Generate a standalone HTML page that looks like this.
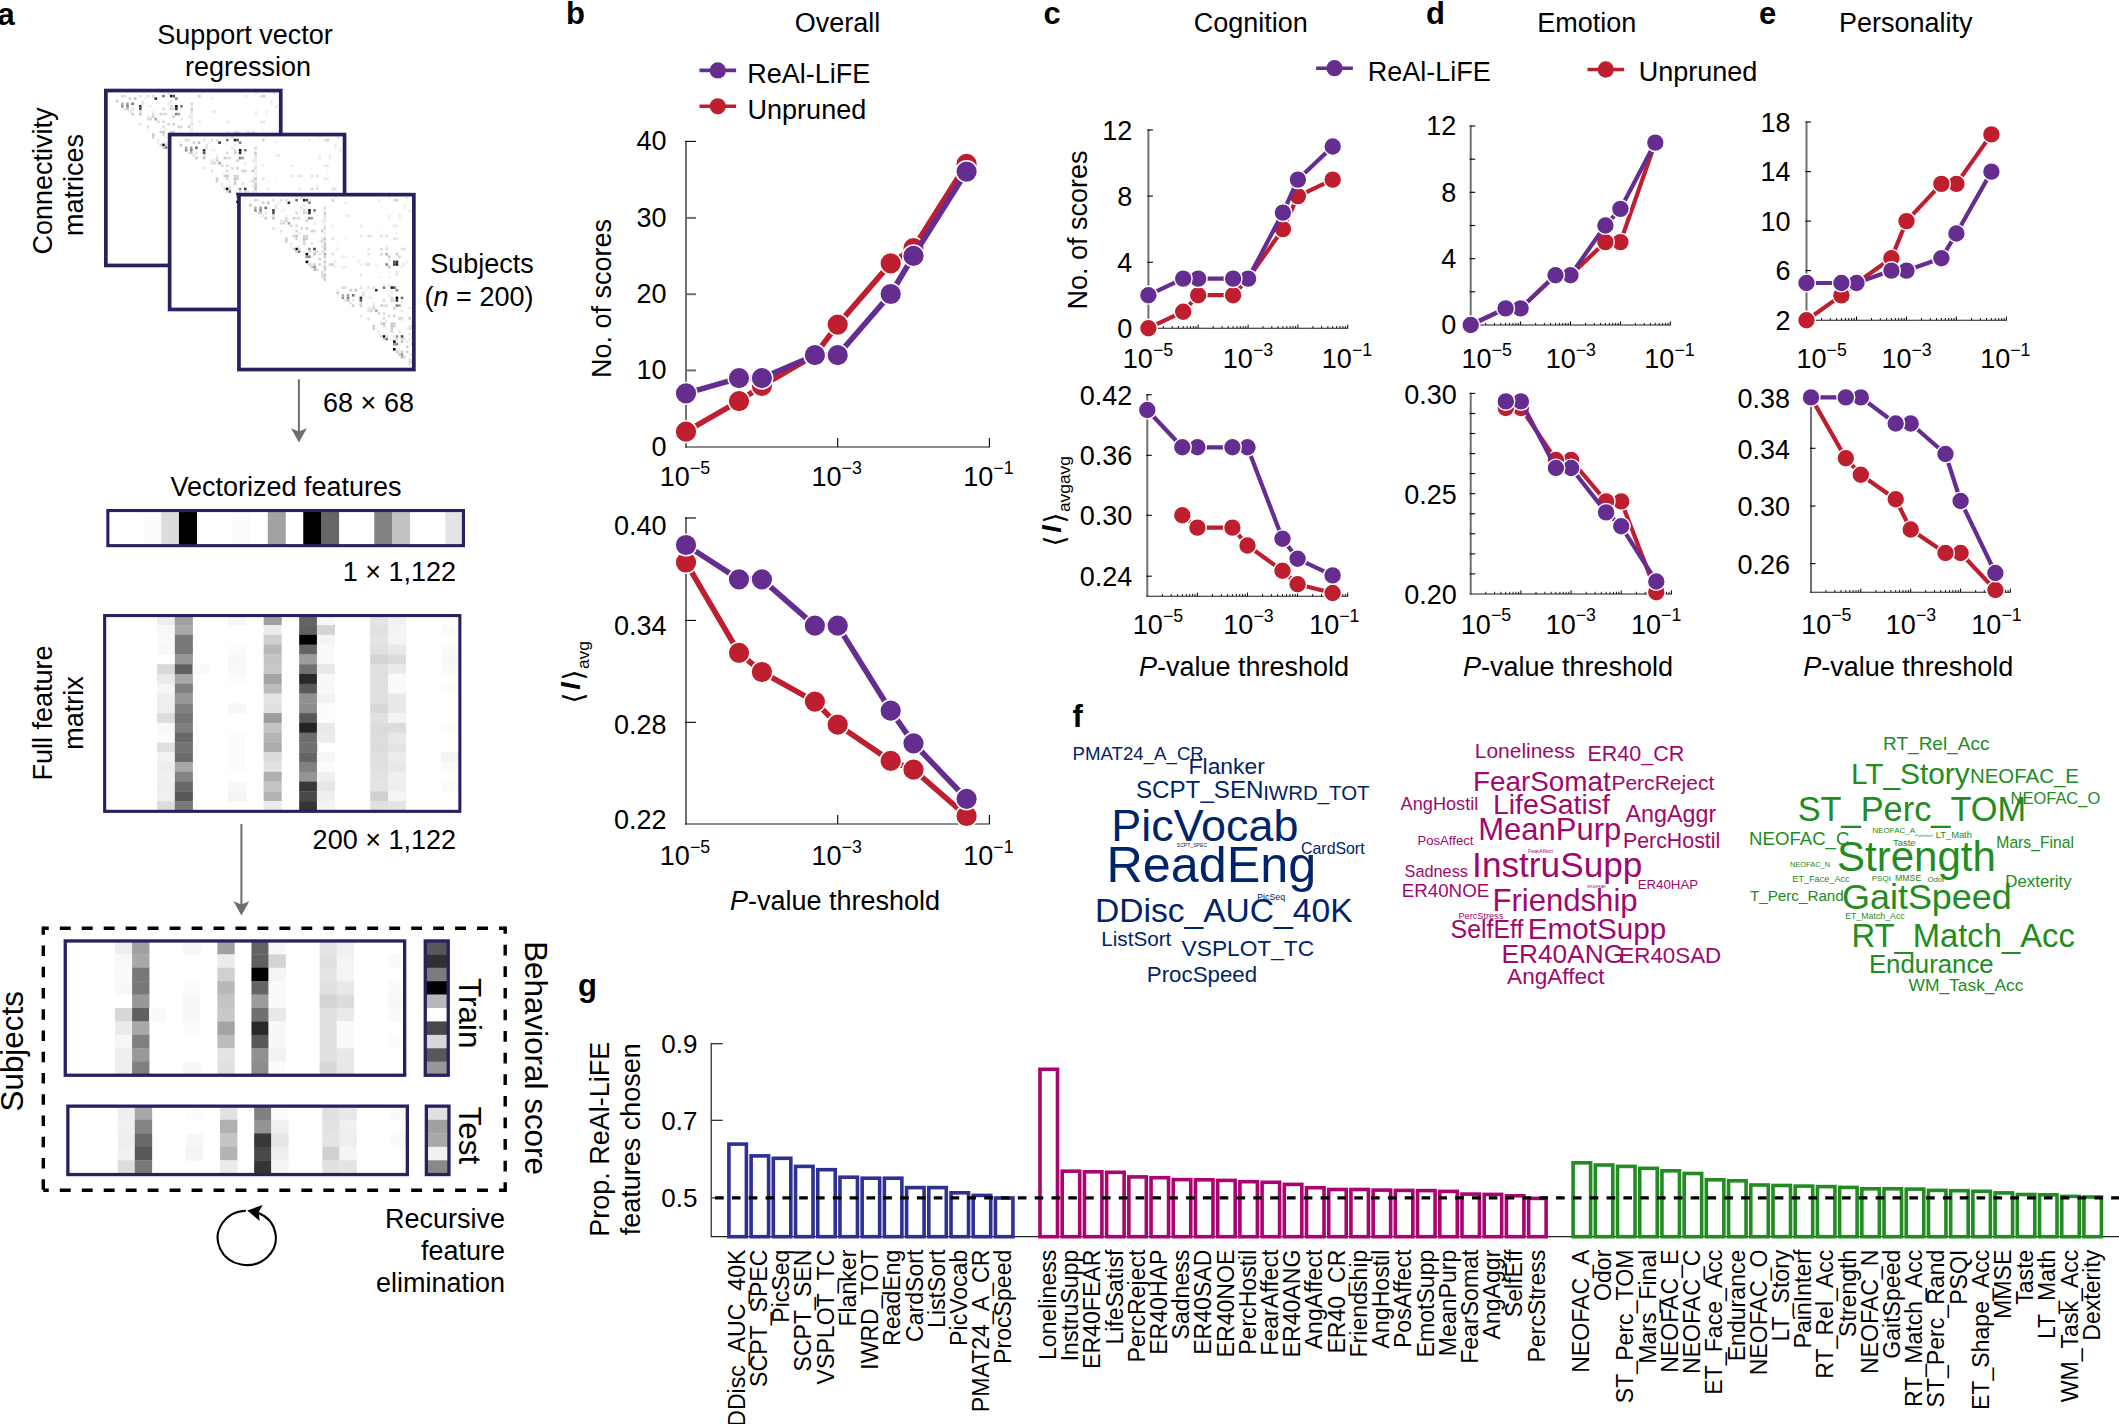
<!DOCTYPE html>
<html><head><meta charset="utf-8"><title>Figure</title><style>html,body{margin:0;padding:0;background:#fff}svg{display:block}.cm rect{width:2.58px;height:2.58px}</style></head><body>
<svg width="2119" height="1424" viewBox="0 0 2119 1424" font-family='"Liberation Sans", sans-serif'>
<rect width="2119" height="1424" fill="#fff"/>
<text x="-2.5" y="24.5" font-size="31" text-anchor="start" fill="#000" font-weight="bold">a</text>
<text x="245.0" y="43.8" font-size="27" text-anchor="middle" fill="#000">Support vector</text>
<text x="248.0" y="76.0" font-size="27" text-anchor="middle" fill="#000">regression</text>
<text x="51.5" y="181.0" font-size="27" text-anchor="middle" fill="#000" transform="rotate(-90 51.5 181.0)">Connectivity</text>
<text x="83.0" y="185.0" font-size="27" text-anchor="middle" fill="#000" transform="rotate(-90 83.0 185.0)">matrices</text>
<text x="482.0" y="273.0" font-size="27" text-anchor="middle" fill="#000">Subjects</text>
<text x="479.0" y="306.0" font-size="27" text-anchor="middle" fill="#000">(<tspan font-style="italic">n</tspan> = 200)</text>
<text x="368.5" y="411.7" font-size="27" text-anchor="middle" fill="#000">68 × 68</text>
<rect x="105.85" y="90.55" width="174.90" height="174.90" fill="#fff"/>
<g class="cm" transform="translate(105.60 92.20)">
<g fill="#000000"><rect x="69.45" y="12.86"/><rect x="156.90" y="100.31"/><rect x="56.59" y="51.44"/><rect x="144.04" y="138.89"/><rect x="66.87" y="56.59"/><rect x="154.32" y="144.04"/><rect x="66.87" y="64.30"/><rect x="154.32" y="151.75"/></g>
<g fill="#101010"><rect x="156.90" y="66.87"/></g>
<g fill="#202020"><rect x="64.30" y="2.57"/><rect x="151.75" y="90.02"/></g>
<g fill="#303030"><rect x="48.87" y="5.14"/><rect x="136.32" y="92.59"/><rect x="33.44" y="12.86"/><rect x="120.89" y="100.31"/><rect x="69.45" y="15.43"/><rect x="156.90" y="102.88"/><rect x="156.90" y="64.30"/></g>
<g fill="#404040"><rect x="74.59" y="51.44"/><rect x="162.04" y="138.89"/><rect x="154.32" y="66.87"/></g>
<g fill="#505050"><rect x="66.87" y="2.57"/><rect x="154.32" y="90.02"/><rect x="33.44" y="15.43"/><rect x="120.89" y="102.88"/><rect x="154.32" y="64.30"/></g>
<g fill="#707070"><rect x="56.59" y="2.57"/><rect x="144.04" y="90.02"/><rect x="25.72" y="10.29"/><rect x="113.17" y="97.74"/><rect x="74.59" y="12.86"/><rect x="162.04" y="100.31"/><rect x="59.16" y="54.01"/><rect x="146.61" y="141.46"/></g>
<g fill="#808080"><rect x="69.45" y="5.14"/><rect x="156.90" y="92.59"/><rect x="20.58" y="12.86"/><rect x="108.03" y="100.31"/><rect x="69.45" y="20.58"/><rect x="156.90" y="108.03"/><rect x="69.45" y="59.16"/><rect x="156.90" y="146.61"/><rect x="146.61" y="66.87"/></g>
<g fill="#909090"><rect x="15.43" y="12.86"/><rect x="102.88" y="100.31"/><rect x="69.45" y="51.44"/><rect x="156.90" y="138.89"/><rect x="66.87" y="59.16"/><rect x="154.32" y="146.61"/><rect x="74.59" y="69.45"/><rect x="162.04" y="156.90"/></g>
<g fill="#a0a0a0"><rect x="20.58" y="10.29"/><rect x="108.03" y="97.74"/><rect x="72.02" y="20.58"/><rect x="159.47" y="108.03"/></g>
<g fill="#a8a8a8"><rect x="48.87" y="25.72"/><rect x="136.32" y="113.17"/><rect x="84.88" y="56.59"/></g>
<g fill="#b0b0b0"><rect x="15.43" y="10.29"/><rect x="102.88" y="97.74"/><rect x="74.59" y="72.02"/><rect x="162.04" y="159.47"/><rect x="146.61" y="56.59"/></g>
<g fill="#c0c0c0"><rect x="20.58" y="15.43"/><rect x="108.03" y="102.88"/><rect x="33.44" y="20.58"/><rect x="120.89" y="108.03"/><rect x="74.59" y="56.59"/><rect x="162.04" y="144.04"/><rect x="56.59" y="38.58"/><rect x="144.04" y="126.03"/><rect x="64.30" y="41.15"/><rect x="151.75" y="128.60"/><rect x="28.29" y="5.14"/><rect x="115.74" y="92.59"/><rect x="84.88" y="41.15"/><rect x="84.88" y="51.44"/><rect x="149.18" y="69.45"/></g>
<g fill="#c8c8c8"><rect x="25.72" y="20.58"/><rect x="113.17" y="108.03"/><rect x="72.02" y="69.45"/><rect x="159.47" y="156.90"/><rect x="46.30" y="41.15"/><rect x="133.75" y="128.60"/><rect x="84.88" y="15.43"/><rect x="84.88" y="46.30"/><rect x="84.88" y="48.87"/><rect x="84.88" y="59.16"/><rect x="84.88" y="64.30"/><rect x="84.88" y="69.45"/><rect x="84.88" y="77.16"/><rect x="92.59" y="66.87"/><rect x="156.90" y="2.57"/><rect x="149.18" y="59.16"/><rect x="156.90" y="56.59"/><rect x="172.33" y="146.61"/><rect x="172.33" y="164.61"/><rect x="82.31" y="33.44"/><rect x="169.76" y="120.89"/><rect x="10.29" y="7.72"/><rect x="97.74" y="95.17"/></g>
<g fill="#d0d0d0"><rect x="46.30" y="23.15"/><rect x="133.75" y="110.60"/><rect x="54.01" y="38.58"/><rect x="141.46" y="126.03"/><rect x="46.30" y="43.73"/><rect x="133.75" y="131.18"/><rect x="64.30" y="43.73"/><rect x="151.75" y="131.18"/><rect x="64.30" y="46.30"/><rect x="151.75" y="133.75"/><rect x="66.87" y="38.58"/><rect x="154.32" y="126.03"/><rect x="66.87" y="30.86"/><rect x="154.32" y="118.31"/><rect x="72.02" y="33.44"/><rect x="159.47" y="120.89"/><rect x="64.30" y="15.43"/><rect x="151.75" y="102.88"/><rect x="23.15" y="5.14"/><rect x="110.60" y="92.59"/><rect x="84.88" y="72.02"/><rect x="84.88" y="82.31"/><rect x="92.59" y="2.57"/><rect x="159.47" y="59.16"/><rect x="66.87" y="23.15"/><rect x="154.32" y="110.60"/><rect x="79.73" y="61.73"/><rect x="167.18" y="149.18"/><rect x="79.73" y="66.87"/><rect x="167.18" y="154.32"/><rect x="172.33" y="169.76"/><rect x="54.01" y="20.58"/><rect x="141.46" y="108.03"/><rect x="64.30" y="38.58"/><rect x="151.75" y="126.03"/><rect x="56.59" y="54.01"/><rect x="144.04" y="141.46"/><rect x="54.01" y="51.44"/><rect x="141.46" y="138.89"/><rect x="66.87" y="41.15"/><rect x="154.32" y="128.60"/><rect x="74.59" y="66.87"/><rect x="162.04" y="154.32"/><rect x="69.45" y="66.87"/><rect x="156.90" y="154.32"/></g>
<g fill="#d8d8d8"><rect x="56.59" y="41.15"/><rect x="144.04" y="128.60"/><rect x="61.73" y="30.86"/><rect x="149.18" y="118.31"/><rect x="74.59" y="33.44"/><rect x="162.04" y="120.89"/><rect x="56.59" y="33.44"/><rect x="144.04" y="120.89"/><rect x="59.16" y="20.58"/><rect x="146.61" y="108.03"/><rect x="56.59" y="15.43"/><rect x="144.04" y="102.88"/><rect x="15.43" y="2.57"/><rect x="102.88" y="90.02"/><rect x="43.73" y="25.72"/><rect x="131.18" y="113.17"/><rect x="84.88" y="10.29"/><rect x="84.88" y="30.86"/><rect x="84.88" y="79.73"/><rect x="90.02" y="66.87"/><rect x="141.46" y="56.59"/><rect x="141.46" y="51.44"/><rect x="128.60" y="66.87"/><rect x="77.16" y="72.02"/><rect x="164.61" y="159.47"/><rect x="69.45" y="54.01"/><rect x="156.90" y="141.46"/><rect x="74.59" y="54.01"/><rect x="162.04" y="141.46"/><rect x="59.16" y="51.44"/><rect x="146.61" y="138.89"/><rect x="56.59" y="28.29"/><rect x="144.04" y="115.74"/><rect x="51.44" y="28.29"/><rect x="138.89" y="115.74"/><rect x="64.30" y="12.86"/><rect x="151.75" y="100.31"/><rect x="82.31" y="43.73"/><rect x="169.76" y="131.18"/></g>
<g fill="#dcdcdc"><rect x="82.31" y="77.16"/><rect x="169.76" y="164.61"/><rect x="66.87" y="15.43"/><rect x="154.32" y="102.88"/><rect x="82.31" y="74.59"/><rect x="169.76" y="162.04"/><rect x="46.30" y="20.58"/><rect x="133.75" y="108.03"/><rect x="33.44" y="18.00"/><rect x="120.89" y="105.45"/><rect x="46.30" y="2.57"/><rect x="133.75" y="90.02"/></g>
<g fill="#e0e0e0"><rect x="41.15" y="33.44"/><rect x="128.60" y="120.89"/><rect x="36.01" y="10.29"/><rect x="123.46" y="97.74"/><rect x="18.00" y="2.57"/><rect x="105.45" y="90.02"/><rect x="33.44" y="2.57"/><rect x="120.89" y="90.02"/><rect x="41.15" y="2.57"/><rect x="128.60" y="90.02"/><rect x="61.73" y="0.00"/><rect x="149.18" y="87.45"/><rect x="41.15" y="25.72"/><rect x="128.60" y="113.17"/><rect x="84.88" y="18.00"/><rect x="92.59" y="41.15"/><rect x="92.59" y="56.59"/><rect x="154.32" y="2.57"/><rect x="146.61" y="51.44"/><rect x="162.04" y="51.44"/><rect x="128.60" y="56.59"/><rect x="126.03" y="66.87"/><rect x="120.89" y="77.16"/><rect x="156.90" y="77.16"/><rect x="128.60" y="38.58"/><rect x="141.46" y="38.58"/><rect x="146.61" y="38.58"/><rect x="82.31" y="79.73"/><rect x="169.76" y="167.18"/><rect x="172.33" y="156.90"/><rect x="77.16" y="54.01"/><rect x="164.61" y="141.46"/><rect x="72.02" y="46.30"/><rect x="159.47" y="133.75"/><rect x="172.33" y="128.60"/><rect x="56.59" y="20.58"/><rect x="144.04" y="108.03"/></g>
<g fill="#e4e4e4"><rect x="36.01" y="7.72"/><rect x="123.46" y="95.17"/><rect x="33.44" y="30.86"/><rect x="120.89" y="118.31"/><rect x="84.88" y="43.73"/><rect x="164.61" y="51.44"/><rect x="154.32" y="41.15"/><rect x="172.33" y="131.18"/><rect x="79.73" y="56.59"/><rect x="167.18" y="144.04"/><rect x="23.15" y="18.00"/><rect x="110.60" y="105.45"/><rect x="18.00" y="15.43"/><rect x="105.45" y="102.88"/><rect x="25.72" y="15.43"/><rect x="113.17" y="102.88"/><rect x="172.33" y="138.89"/></g>
<g fill="#e8e8e8"><rect x="84.88" y="20.58"/><rect x="84.88" y="23.15"/><rect x="84.88" y="28.29"/><rect x="84.88" y="36.01"/><rect x="84.88" y="54.01"/><rect x="84.88" y="66.87"/><rect x="128.60" y="51.44"/><rect x="156.90" y="41.15"/><rect x="120.89" y="28.29"/><rect x="154.32" y="28.29"/><rect x="156.90" y="28.29"/><rect x="162.04" y="69.45"/><rect x="156.90" y="74.59"/><rect x="61.73" y="10.29"/><rect x="149.18" y="97.74"/><rect x="74.59" y="25.72"/><rect x="162.04" y="113.17"/><rect x="82.31" y="48.87"/><rect x="169.76" y="136.32"/><rect x="82.31" y="54.01"/><rect x="169.76" y="141.46"/><rect x="72.02" y="66.87"/><rect x="159.47" y="154.32"/><rect x="82.31" y="23.15"/><rect x="169.76" y="110.60"/><rect x="64.30" y="7.72"/><rect x="151.75" y="95.17"/><rect x="41.15" y="23.15"/><rect x="128.60" y="110.60"/><rect x="82.31" y="41.15"/><rect x="169.76" y="128.60"/><rect x="131.18" y="38.58"/><rect x="167.18" y="0.00"/><rect x="169.76" y="12.86"/><rect x="149.18" y="61.73"/><rect x="108.03" y="18.00"/><rect x="120.89" y="38.58"/></g>
<g fill="#ececec"><rect x="149.18" y="20.58"/><rect x="102.88" y="59.16"/><rect x="118.31" y="64.30"/><rect x="164.61" y="66.87"/><rect x="51.44" y="46.30"/><rect x="138.89" y="133.75"/><rect x="59.16" y="36.01"/><rect x="146.61" y="123.46"/><rect x="95.17" y="64.30"/><rect x="164.61" y="7.72"/><rect x="97.74" y="51.44"/><rect x="146.61" y="48.87"/><rect x="92.59" y="28.29"/><rect x="95.17" y="69.45"/><rect x="138.89" y="2.57"/></g>
<g fill="#f0f0f0"><rect x="84.88" y="12.86"/><rect x="84.88" y="74.59"/><rect x="149.18" y="18.00"/><rect x="159.47" y="18.00"/><rect x="159.47" y="20.58"/><rect x="105.45" y="59.16"/><rect x="113.17" y="59.16"/><rect x="120.89" y="66.87"/><rect x="136.32" y="66.87"/><rect x="102.88" y="69.45"/><rect x="105.45" y="69.45"/><rect x="167.18" y="64.30"/><rect x="149.18" y="74.59"/><rect x="149.18" y="79.73"/><rect x="43.73" y="23.15"/><rect x="131.18" y="110.60"/><rect x="56.59" y="0.00"/><rect x="144.04" y="87.45"/><rect x="74.59" y="15.43"/><rect x="162.04" y="102.88"/><rect x="43.73" y="12.86"/><rect x="131.18" y="100.31"/><rect x="51.44" y="48.87"/><rect x="138.89" y="136.32"/><rect x="172.33" y="162.04"/><rect x="79.73" y="43.73"/><rect x="167.18" y="131.18"/><rect x="72.02" y="59.16"/><rect x="159.47" y="146.61"/><rect x="66.87" y="51.44"/><rect x="154.32" y="138.89"/><rect x="64.30" y="54.01"/><rect x="151.75" y="141.46"/><rect x="59.16" y="48.87"/><rect x="146.61" y="136.32"/><rect x="105.45" y="5.14"/><rect x="164.61" y="10.29"/><rect x="149.18" y="0.00"/><rect x="162.04" y="66.87"/></g>
<g fill="#f4f4f4"><rect x="84.88" y="25.72"/><rect x="84.88" y="33.44"/><rect x="84.88" y="38.58"/><rect x="84.88" y="61.73"/><rect x="172.33" y="126.03"/><rect x="54.01" y="36.01"/><rect x="141.46" y="123.46"/><rect x="59.16" y="43.73"/><rect x="146.61" y="131.18"/><rect x="38.58" y="5.14"/><rect x="126.03" y="92.59"/><rect x="82.31" y="56.59"/><rect x="169.76" y="144.04"/><rect x="74.59" y="36.01"/><rect x="162.04" y="123.46"/><rect x="41.15" y="12.86"/><rect x="128.60" y="100.31"/><rect x="82.31" y="69.45"/><rect x="169.76" y="156.90"/><rect x="41.15" y="36.01"/><rect x="128.60" y="123.46"/><rect x="10.29" y="5.14"/><rect x="97.74" y="92.59"/><rect x="46.30" y="18.00"/><rect x="133.75" y="105.45"/><rect x="105.45" y="18.00"/><rect x="95.17" y="0.00"/><rect x="138.89" y="79.73"/><rect x="156.90" y="36.01"/></g>
<g fill="#f8f8f8"><rect x="172.33" y="84.88"/><rect x="141.46" y="30.86"/><rect x="97.74" y="43.73"/><rect x="105.45" y="41.15"/></g>
</g>
<rect x="105.85" y="90.55" width="174.90" height="174.90" fill="none" stroke="#262262" stroke-width="3.7"/>
<rect x="169.65" y="134.55" width="174.90" height="174.90" fill="#fff"/>
<g class="cm" transform="translate(169.40 136.20)">
<g fill="#000000"><rect x="69.45" y="12.86"/><rect x="156.90" y="100.31"/><rect x="56.59" y="51.44"/><rect x="144.04" y="138.89"/><rect x="66.87" y="56.59"/><rect x="154.32" y="144.04"/><rect x="66.87" y="64.30"/><rect x="154.32" y="151.75"/></g>
<g fill="#101010"><rect x="156.90" y="66.87"/></g>
<g fill="#202020"><rect x="64.30" y="2.57"/><rect x="151.75" y="90.02"/></g>
<g fill="#303030"><rect x="48.87" y="5.14"/><rect x="136.32" y="92.59"/><rect x="33.44" y="12.86"/><rect x="120.89" y="100.31"/><rect x="69.45" y="15.43"/><rect x="156.90" y="102.88"/><rect x="156.90" y="64.30"/></g>
<g fill="#404040"><rect x="74.59" y="51.44"/><rect x="162.04" y="138.89"/><rect x="154.32" y="66.87"/></g>
<g fill="#505050"><rect x="66.87" y="2.57"/><rect x="154.32" y="90.02"/><rect x="33.44" y="15.43"/><rect x="120.89" y="102.88"/><rect x="154.32" y="64.30"/></g>
<g fill="#707070"><rect x="56.59" y="2.57"/><rect x="144.04" y="90.02"/><rect x="25.72" y="10.29"/><rect x="113.17" y="97.74"/><rect x="74.59" y="12.86"/><rect x="162.04" y="100.31"/><rect x="59.16" y="54.01"/><rect x="146.61" y="141.46"/></g>
<g fill="#808080"><rect x="69.45" y="5.14"/><rect x="156.90" y="92.59"/><rect x="20.58" y="12.86"/><rect x="108.03" y="100.31"/><rect x="69.45" y="20.58"/><rect x="156.90" y="108.03"/><rect x="69.45" y="59.16"/><rect x="156.90" y="146.61"/><rect x="146.61" y="66.87"/></g>
<g fill="#909090"><rect x="15.43" y="12.86"/><rect x="102.88" y="100.31"/><rect x="69.45" y="51.44"/><rect x="156.90" y="138.89"/><rect x="66.87" y="59.16"/><rect x="154.32" y="146.61"/><rect x="74.59" y="69.45"/><rect x="162.04" y="156.90"/></g>
<g fill="#a0a0a0"><rect x="20.58" y="10.29"/><rect x="108.03" y="97.74"/><rect x="72.02" y="20.58"/><rect x="159.47" y="108.03"/></g>
<g fill="#a8a8a8"><rect x="48.87" y="25.72"/><rect x="136.32" y="113.17"/><rect x="84.88" y="56.59"/></g>
<g fill="#b0b0b0"><rect x="15.43" y="10.29"/><rect x="102.88" y="97.74"/><rect x="74.59" y="72.02"/><rect x="162.04" y="159.47"/><rect x="146.61" y="56.59"/></g>
<g fill="#c0c0c0"><rect x="20.58" y="15.43"/><rect x="108.03" y="102.88"/><rect x="33.44" y="20.58"/><rect x="120.89" y="108.03"/><rect x="74.59" y="56.59"/><rect x="162.04" y="144.04"/><rect x="56.59" y="38.58"/><rect x="144.04" y="126.03"/><rect x="64.30" y="41.15"/><rect x="151.75" y="128.60"/><rect x="28.29" y="5.14"/><rect x="115.74" y="92.59"/><rect x="84.88" y="41.15"/><rect x="84.88" y="51.44"/><rect x="149.18" y="69.45"/></g>
<g fill="#c8c8c8"><rect x="25.72" y="20.58"/><rect x="113.17" y="108.03"/><rect x="72.02" y="69.45"/><rect x="159.47" y="156.90"/><rect x="46.30" y="41.15"/><rect x="133.75" y="128.60"/><rect x="84.88" y="15.43"/><rect x="84.88" y="46.30"/><rect x="84.88" y="48.87"/><rect x="84.88" y="59.16"/><rect x="84.88" y="64.30"/><rect x="84.88" y="69.45"/><rect x="84.88" y="77.16"/><rect x="92.59" y="66.87"/><rect x="156.90" y="2.57"/><rect x="149.18" y="59.16"/><rect x="156.90" y="56.59"/><rect x="172.33" y="146.61"/><rect x="172.33" y="164.61"/><rect x="82.31" y="33.44"/><rect x="169.76" y="120.89"/><rect x="10.29" y="7.72"/><rect x="97.74" y="95.17"/></g>
<g fill="#d0d0d0"><rect x="46.30" y="23.15"/><rect x="133.75" y="110.60"/><rect x="54.01" y="38.58"/><rect x="141.46" y="126.03"/><rect x="46.30" y="43.73"/><rect x="133.75" y="131.18"/><rect x="64.30" y="43.73"/><rect x="151.75" y="131.18"/><rect x="64.30" y="46.30"/><rect x="151.75" y="133.75"/><rect x="66.87" y="38.58"/><rect x="154.32" y="126.03"/><rect x="66.87" y="30.86"/><rect x="154.32" y="118.31"/><rect x="72.02" y="33.44"/><rect x="159.47" y="120.89"/><rect x="64.30" y="15.43"/><rect x="151.75" y="102.88"/><rect x="23.15" y="5.14"/><rect x="110.60" y="92.59"/><rect x="84.88" y="72.02"/><rect x="84.88" y="82.31"/><rect x="92.59" y="2.57"/><rect x="159.47" y="59.16"/><rect x="66.87" y="23.15"/><rect x="154.32" y="110.60"/><rect x="79.73" y="61.73"/><rect x="167.18" y="149.18"/><rect x="79.73" y="66.87"/><rect x="167.18" y="154.32"/><rect x="172.33" y="169.76"/><rect x="54.01" y="20.58"/><rect x="141.46" y="108.03"/><rect x="64.30" y="38.58"/><rect x="151.75" y="126.03"/><rect x="56.59" y="54.01"/><rect x="144.04" y="141.46"/><rect x="54.01" y="51.44"/><rect x="141.46" y="138.89"/><rect x="66.87" y="41.15"/><rect x="154.32" y="128.60"/><rect x="74.59" y="66.87"/><rect x="162.04" y="154.32"/><rect x="69.45" y="66.87"/><rect x="156.90" y="154.32"/></g>
<g fill="#d8d8d8"><rect x="56.59" y="41.15"/><rect x="144.04" y="128.60"/><rect x="61.73" y="30.86"/><rect x="149.18" y="118.31"/><rect x="74.59" y="33.44"/><rect x="162.04" y="120.89"/><rect x="56.59" y="33.44"/><rect x="144.04" y="120.89"/><rect x="59.16" y="20.58"/><rect x="146.61" y="108.03"/><rect x="56.59" y="15.43"/><rect x="144.04" y="102.88"/><rect x="15.43" y="2.57"/><rect x="102.88" y="90.02"/><rect x="43.73" y="25.72"/><rect x="131.18" y="113.17"/><rect x="84.88" y="10.29"/><rect x="84.88" y="30.86"/><rect x="84.88" y="79.73"/><rect x="90.02" y="66.87"/><rect x="141.46" y="56.59"/><rect x="141.46" y="51.44"/><rect x="128.60" y="66.87"/><rect x="77.16" y="72.02"/><rect x="164.61" y="159.47"/><rect x="69.45" y="54.01"/><rect x="156.90" y="141.46"/><rect x="74.59" y="54.01"/><rect x="162.04" y="141.46"/><rect x="59.16" y="51.44"/><rect x="146.61" y="138.89"/><rect x="56.59" y="28.29"/><rect x="144.04" y="115.74"/><rect x="51.44" y="28.29"/><rect x="138.89" y="115.74"/><rect x="64.30" y="12.86"/><rect x="151.75" y="100.31"/><rect x="82.31" y="43.73"/><rect x="169.76" y="131.18"/></g>
<g fill="#dcdcdc"><rect x="82.31" y="77.16"/><rect x="169.76" y="164.61"/><rect x="66.87" y="15.43"/><rect x="154.32" y="102.88"/><rect x="82.31" y="74.59"/><rect x="169.76" y="162.04"/><rect x="46.30" y="20.58"/><rect x="133.75" y="108.03"/><rect x="33.44" y="18.00"/><rect x="120.89" y="105.45"/><rect x="46.30" y="2.57"/><rect x="133.75" y="90.02"/></g>
<g fill="#e0e0e0"><rect x="41.15" y="33.44"/><rect x="128.60" y="120.89"/><rect x="36.01" y="10.29"/><rect x="123.46" y="97.74"/><rect x="18.00" y="2.57"/><rect x="105.45" y="90.02"/><rect x="33.44" y="2.57"/><rect x="120.89" y="90.02"/><rect x="41.15" y="2.57"/><rect x="128.60" y="90.02"/><rect x="61.73" y="0.00"/><rect x="149.18" y="87.45"/><rect x="41.15" y="25.72"/><rect x="128.60" y="113.17"/><rect x="84.88" y="18.00"/><rect x="92.59" y="41.15"/><rect x="92.59" y="56.59"/><rect x="154.32" y="2.57"/><rect x="146.61" y="51.44"/><rect x="162.04" y="51.44"/><rect x="128.60" y="56.59"/><rect x="126.03" y="66.87"/><rect x="120.89" y="77.16"/><rect x="156.90" y="77.16"/><rect x="128.60" y="38.58"/><rect x="141.46" y="38.58"/><rect x="146.61" y="38.58"/><rect x="82.31" y="79.73"/><rect x="169.76" y="167.18"/><rect x="172.33" y="156.90"/><rect x="77.16" y="54.01"/><rect x="164.61" y="141.46"/><rect x="72.02" y="46.30"/><rect x="159.47" y="133.75"/><rect x="172.33" y="128.60"/><rect x="56.59" y="20.58"/><rect x="144.04" y="108.03"/></g>
<g fill="#e4e4e4"><rect x="36.01" y="7.72"/><rect x="123.46" y="95.17"/><rect x="33.44" y="30.86"/><rect x="120.89" y="118.31"/><rect x="84.88" y="43.73"/><rect x="164.61" y="51.44"/><rect x="154.32" y="41.15"/><rect x="172.33" y="131.18"/><rect x="79.73" y="56.59"/><rect x="167.18" y="144.04"/><rect x="23.15" y="18.00"/><rect x="110.60" y="105.45"/><rect x="18.00" y="15.43"/><rect x="105.45" y="102.88"/><rect x="25.72" y="15.43"/><rect x="113.17" y="102.88"/><rect x="172.33" y="138.89"/></g>
<g fill="#e8e8e8"><rect x="84.88" y="20.58"/><rect x="84.88" y="23.15"/><rect x="84.88" y="28.29"/><rect x="84.88" y="36.01"/><rect x="84.88" y="54.01"/><rect x="84.88" y="66.87"/><rect x="128.60" y="51.44"/><rect x="156.90" y="41.15"/><rect x="120.89" y="28.29"/><rect x="154.32" y="28.29"/><rect x="156.90" y="28.29"/><rect x="162.04" y="69.45"/><rect x="156.90" y="74.59"/><rect x="61.73" y="10.29"/><rect x="149.18" y="97.74"/><rect x="74.59" y="25.72"/><rect x="162.04" y="113.17"/><rect x="82.31" y="48.87"/><rect x="169.76" y="136.32"/><rect x="82.31" y="54.01"/><rect x="169.76" y="141.46"/><rect x="72.02" y="66.87"/><rect x="159.47" y="154.32"/><rect x="82.31" y="23.15"/><rect x="169.76" y="110.60"/><rect x="64.30" y="7.72"/><rect x="151.75" y="95.17"/><rect x="41.15" y="23.15"/><rect x="128.60" y="110.60"/><rect x="82.31" y="41.15"/><rect x="169.76" y="128.60"/><rect x="131.18" y="38.58"/><rect x="167.18" y="0.00"/><rect x="169.76" y="12.86"/><rect x="149.18" y="61.73"/><rect x="108.03" y="18.00"/><rect x="120.89" y="38.58"/></g>
<g fill="#ececec"><rect x="149.18" y="20.58"/><rect x="102.88" y="59.16"/><rect x="118.31" y="64.30"/><rect x="164.61" y="66.87"/><rect x="51.44" y="46.30"/><rect x="138.89" y="133.75"/><rect x="59.16" y="36.01"/><rect x="146.61" y="123.46"/><rect x="95.17" y="64.30"/><rect x="164.61" y="7.72"/><rect x="97.74" y="51.44"/><rect x="146.61" y="48.87"/><rect x="92.59" y="28.29"/><rect x="95.17" y="69.45"/><rect x="138.89" y="2.57"/></g>
<g fill="#f0f0f0"><rect x="84.88" y="12.86"/><rect x="84.88" y="74.59"/><rect x="149.18" y="18.00"/><rect x="159.47" y="18.00"/><rect x="159.47" y="20.58"/><rect x="105.45" y="59.16"/><rect x="113.17" y="59.16"/><rect x="120.89" y="66.87"/><rect x="136.32" y="66.87"/><rect x="102.88" y="69.45"/><rect x="105.45" y="69.45"/><rect x="167.18" y="64.30"/><rect x="149.18" y="74.59"/><rect x="149.18" y="79.73"/><rect x="43.73" y="23.15"/><rect x="131.18" y="110.60"/><rect x="56.59" y="0.00"/><rect x="144.04" y="87.45"/><rect x="74.59" y="15.43"/><rect x="162.04" y="102.88"/><rect x="43.73" y="12.86"/><rect x="131.18" y="100.31"/><rect x="51.44" y="48.87"/><rect x="138.89" y="136.32"/><rect x="172.33" y="162.04"/><rect x="79.73" y="43.73"/><rect x="167.18" y="131.18"/><rect x="72.02" y="59.16"/><rect x="159.47" y="146.61"/><rect x="66.87" y="51.44"/><rect x="154.32" y="138.89"/><rect x="64.30" y="54.01"/><rect x="151.75" y="141.46"/><rect x="59.16" y="48.87"/><rect x="146.61" y="136.32"/><rect x="105.45" y="5.14"/><rect x="164.61" y="10.29"/><rect x="149.18" y="0.00"/><rect x="162.04" y="66.87"/></g>
<g fill="#f4f4f4"><rect x="84.88" y="25.72"/><rect x="84.88" y="33.44"/><rect x="84.88" y="38.58"/><rect x="84.88" y="61.73"/><rect x="172.33" y="126.03"/><rect x="54.01" y="36.01"/><rect x="141.46" y="123.46"/><rect x="59.16" y="43.73"/><rect x="146.61" y="131.18"/><rect x="38.58" y="5.14"/><rect x="126.03" y="92.59"/><rect x="82.31" y="56.59"/><rect x="169.76" y="144.04"/><rect x="74.59" y="36.01"/><rect x="162.04" y="123.46"/><rect x="41.15" y="12.86"/><rect x="128.60" y="100.31"/><rect x="82.31" y="69.45"/><rect x="169.76" y="156.90"/><rect x="41.15" y="36.01"/><rect x="128.60" y="123.46"/><rect x="10.29" y="5.14"/><rect x="97.74" y="92.59"/><rect x="46.30" y="18.00"/><rect x="133.75" y="105.45"/><rect x="105.45" y="18.00"/><rect x="95.17" y="0.00"/><rect x="138.89" y="79.73"/><rect x="156.90" y="36.01"/></g>
<g fill="#f8f8f8"><rect x="172.33" y="84.88"/><rect x="141.46" y="30.86"/><rect x="97.74" y="43.73"/><rect x="105.45" y="41.15"/></g>
</g>
<rect x="169.65" y="134.55" width="174.90" height="174.90" fill="none" stroke="#262262" stroke-width="3.7"/>
<rect x="238.95" y="194.65" width="174.90" height="174.90" fill="#fff"/>
<g class="cm" transform="translate(238.70 196.30)">
<g fill="#000000"><rect x="69.45" y="12.86"/><rect x="156.90" y="100.31"/><rect x="56.59" y="51.44"/><rect x="144.04" y="138.89"/><rect x="66.87" y="56.59"/><rect x="154.32" y="144.04"/><rect x="66.87" y="64.30"/><rect x="154.32" y="151.75"/></g>
<g fill="#101010"><rect x="156.90" y="66.87"/></g>
<g fill="#202020"><rect x="64.30" y="2.57"/><rect x="151.75" y="90.02"/></g>
<g fill="#303030"><rect x="48.87" y="5.14"/><rect x="136.32" y="92.59"/><rect x="33.44" y="12.86"/><rect x="120.89" y="100.31"/><rect x="69.45" y="15.43"/><rect x="156.90" y="102.88"/><rect x="156.90" y="64.30"/></g>
<g fill="#404040"><rect x="74.59" y="51.44"/><rect x="162.04" y="138.89"/><rect x="154.32" y="66.87"/></g>
<g fill="#505050"><rect x="66.87" y="2.57"/><rect x="154.32" y="90.02"/><rect x="33.44" y="15.43"/><rect x="120.89" y="102.88"/><rect x="154.32" y="64.30"/></g>
<g fill="#707070"><rect x="56.59" y="2.57"/><rect x="144.04" y="90.02"/><rect x="25.72" y="10.29"/><rect x="113.17" y="97.74"/><rect x="74.59" y="12.86"/><rect x="162.04" y="100.31"/><rect x="59.16" y="54.01"/><rect x="146.61" y="141.46"/></g>
<g fill="#808080"><rect x="69.45" y="5.14"/><rect x="156.90" y="92.59"/><rect x="20.58" y="12.86"/><rect x="108.03" y="100.31"/><rect x="69.45" y="20.58"/><rect x="156.90" y="108.03"/><rect x="69.45" y="59.16"/><rect x="156.90" y="146.61"/><rect x="146.61" y="66.87"/></g>
<g fill="#909090"><rect x="15.43" y="12.86"/><rect x="102.88" y="100.31"/><rect x="69.45" y="51.44"/><rect x="156.90" y="138.89"/><rect x="66.87" y="59.16"/><rect x="154.32" y="146.61"/><rect x="74.59" y="69.45"/><rect x="162.04" y="156.90"/></g>
<g fill="#a0a0a0"><rect x="20.58" y="10.29"/><rect x="108.03" y="97.74"/><rect x="72.02" y="20.58"/><rect x="159.47" y="108.03"/></g>
<g fill="#a8a8a8"><rect x="48.87" y="25.72"/><rect x="136.32" y="113.17"/><rect x="84.88" y="56.59"/></g>
<g fill="#b0b0b0"><rect x="15.43" y="10.29"/><rect x="102.88" y="97.74"/><rect x="74.59" y="72.02"/><rect x="162.04" y="159.47"/><rect x="146.61" y="56.59"/></g>
<g fill="#c0c0c0"><rect x="20.58" y="15.43"/><rect x="108.03" y="102.88"/><rect x="33.44" y="20.58"/><rect x="120.89" y="108.03"/><rect x="74.59" y="56.59"/><rect x="162.04" y="144.04"/><rect x="56.59" y="38.58"/><rect x="144.04" y="126.03"/><rect x="64.30" y="41.15"/><rect x="151.75" y="128.60"/><rect x="28.29" y="5.14"/><rect x="115.74" y="92.59"/><rect x="84.88" y="41.15"/><rect x="84.88" y="51.44"/><rect x="149.18" y="69.45"/></g>
<g fill="#c8c8c8"><rect x="25.72" y="20.58"/><rect x="113.17" y="108.03"/><rect x="72.02" y="69.45"/><rect x="159.47" y="156.90"/><rect x="46.30" y="41.15"/><rect x="133.75" y="128.60"/><rect x="84.88" y="15.43"/><rect x="84.88" y="46.30"/><rect x="84.88" y="48.87"/><rect x="84.88" y="59.16"/><rect x="84.88" y="64.30"/><rect x="84.88" y="69.45"/><rect x="84.88" y="77.16"/><rect x="92.59" y="66.87"/><rect x="156.90" y="2.57"/><rect x="149.18" y="59.16"/><rect x="156.90" y="56.59"/><rect x="172.33" y="146.61"/><rect x="172.33" y="164.61"/><rect x="82.31" y="33.44"/><rect x="169.76" y="120.89"/><rect x="10.29" y="7.72"/><rect x="97.74" y="95.17"/></g>
<g fill="#d0d0d0"><rect x="46.30" y="23.15"/><rect x="133.75" y="110.60"/><rect x="54.01" y="38.58"/><rect x="141.46" y="126.03"/><rect x="46.30" y="43.73"/><rect x="133.75" y="131.18"/><rect x="64.30" y="43.73"/><rect x="151.75" y="131.18"/><rect x="64.30" y="46.30"/><rect x="151.75" y="133.75"/><rect x="66.87" y="38.58"/><rect x="154.32" y="126.03"/><rect x="66.87" y="30.86"/><rect x="154.32" y="118.31"/><rect x="72.02" y="33.44"/><rect x="159.47" y="120.89"/><rect x="64.30" y="15.43"/><rect x="151.75" y="102.88"/><rect x="23.15" y="5.14"/><rect x="110.60" y="92.59"/><rect x="84.88" y="72.02"/><rect x="84.88" y="82.31"/><rect x="92.59" y="2.57"/><rect x="159.47" y="59.16"/><rect x="66.87" y="23.15"/><rect x="154.32" y="110.60"/><rect x="79.73" y="61.73"/><rect x="167.18" y="149.18"/><rect x="79.73" y="66.87"/><rect x="167.18" y="154.32"/><rect x="172.33" y="169.76"/><rect x="54.01" y="20.58"/><rect x="141.46" y="108.03"/><rect x="64.30" y="38.58"/><rect x="151.75" y="126.03"/><rect x="56.59" y="54.01"/><rect x="144.04" y="141.46"/><rect x="54.01" y="51.44"/><rect x="141.46" y="138.89"/><rect x="66.87" y="41.15"/><rect x="154.32" y="128.60"/><rect x="74.59" y="66.87"/><rect x="162.04" y="154.32"/><rect x="69.45" y="66.87"/><rect x="156.90" y="154.32"/></g>
<g fill="#d8d8d8"><rect x="56.59" y="41.15"/><rect x="144.04" y="128.60"/><rect x="61.73" y="30.86"/><rect x="149.18" y="118.31"/><rect x="74.59" y="33.44"/><rect x="162.04" y="120.89"/><rect x="56.59" y="33.44"/><rect x="144.04" y="120.89"/><rect x="59.16" y="20.58"/><rect x="146.61" y="108.03"/><rect x="56.59" y="15.43"/><rect x="144.04" y="102.88"/><rect x="15.43" y="2.57"/><rect x="102.88" y="90.02"/><rect x="43.73" y="25.72"/><rect x="131.18" y="113.17"/><rect x="84.88" y="10.29"/><rect x="84.88" y="30.86"/><rect x="84.88" y="79.73"/><rect x="90.02" y="66.87"/><rect x="141.46" y="56.59"/><rect x="141.46" y="51.44"/><rect x="128.60" y="66.87"/><rect x="77.16" y="72.02"/><rect x="164.61" y="159.47"/><rect x="69.45" y="54.01"/><rect x="156.90" y="141.46"/><rect x="74.59" y="54.01"/><rect x="162.04" y="141.46"/><rect x="59.16" y="51.44"/><rect x="146.61" y="138.89"/><rect x="56.59" y="28.29"/><rect x="144.04" y="115.74"/><rect x="51.44" y="28.29"/><rect x="138.89" y="115.74"/><rect x="64.30" y="12.86"/><rect x="151.75" y="100.31"/><rect x="82.31" y="43.73"/><rect x="169.76" y="131.18"/></g>
<g fill="#dcdcdc"><rect x="82.31" y="77.16"/><rect x="169.76" y="164.61"/><rect x="66.87" y="15.43"/><rect x="154.32" y="102.88"/><rect x="82.31" y="74.59"/><rect x="169.76" y="162.04"/><rect x="46.30" y="20.58"/><rect x="133.75" y="108.03"/><rect x="33.44" y="18.00"/><rect x="120.89" y="105.45"/><rect x="46.30" y="2.57"/><rect x="133.75" y="90.02"/></g>
<g fill="#e0e0e0"><rect x="41.15" y="33.44"/><rect x="128.60" y="120.89"/><rect x="36.01" y="10.29"/><rect x="123.46" y="97.74"/><rect x="18.00" y="2.57"/><rect x="105.45" y="90.02"/><rect x="33.44" y="2.57"/><rect x="120.89" y="90.02"/><rect x="41.15" y="2.57"/><rect x="128.60" y="90.02"/><rect x="61.73" y="0.00"/><rect x="149.18" y="87.45"/><rect x="41.15" y="25.72"/><rect x="128.60" y="113.17"/><rect x="84.88" y="18.00"/><rect x="92.59" y="41.15"/><rect x="92.59" y="56.59"/><rect x="154.32" y="2.57"/><rect x="146.61" y="51.44"/><rect x="162.04" y="51.44"/><rect x="128.60" y="56.59"/><rect x="126.03" y="66.87"/><rect x="120.89" y="77.16"/><rect x="156.90" y="77.16"/><rect x="128.60" y="38.58"/><rect x="141.46" y="38.58"/><rect x="146.61" y="38.58"/><rect x="82.31" y="79.73"/><rect x="169.76" y="167.18"/><rect x="172.33" y="156.90"/><rect x="77.16" y="54.01"/><rect x="164.61" y="141.46"/><rect x="72.02" y="46.30"/><rect x="159.47" y="133.75"/><rect x="172.33" y="128.60"/><rect x="56.59" y="20.58"/><rect x="144.04" y="108.03"/></g>
<g fill="#e4e4e4"><rect x="36.01" y="7.72"/><rect x="123.46" y="95.17"/><rect x="33.44" y="30.86"/><rect x="120.89" y="118.31"/><rect x="84.88" y="43.73"/><rect x="164.61" y="51.44"/><rect x="154.32" y="41.15"/><rect x="172.33" y="131.18"/><rect x="79.73" y="56.59"/><rect x="167.18" y="144.04"/><rect x="23.15" y="18.00"/><rect x="110.60" y="105.45"/><rect x="18.00" y="15.43"/><rect x="105.45" y="102.88"/><rect x="25.72" y="15.43"/><rect x="113.17" y="102.88"/><rect x="172.33" y="138.89"/></g>
<g fill="#e8e8e8"><rect x="84.88" y="20.58"/><rect x="84.88" y="23.15"/><rect x="84.88" y="28.29"/><rect x="84.88" y="36.01"/><rect x="84.88" y="54.01"/><rect x="84.88" y="66.87"/><rect x="128.60" y="51.44"/><rect x="156.90" y="41.15"/><rect x="120.89" y="28.29"/><rect x="154.32" y="28.29"/><rect x="156.90" y="28.29"/><rect x="162.04" y="69.45"/><rect x="156.90" y="74.59"/><rect x="61.73" y="10.29"/><rect x="149.18" y="97.74"/><rect x="74.59" y="25.72"/><rect x="162.04" y="113.17"/><rect x="82.31" y="48.87"/><rect x="169.76" y="136.32"/><rect x="82.31" y="54.01"/><rect x="169.76" y="141.46"/><rect x="72.02" y="66.87"/><rect x="159.47" y="154.32"/><rect x="82.31" y="23.15"/><rect x="169.76" y="110.60"/><rect x="64.30" y="7.72"/><rect x="151.75" y="95.17"/><rect x="41.15" y="23.15"/><rect x="128.60" y="110.60"/><rect x="82.31" y="41.15"/><rect x="169.76" y="128.60"/><rect x="131.18" y="38.58"/><rect x="167.18" y="0.00"/><rect x="169.76" y="12.86"/><rect x="149.18" y="61.73"/><rect x="108.03" y="18.00"/><rect x="120.89" y="38.58"/></g>
<g fill="#ececec"><rect x="149.18" y="20.58"/><rect x="102.88" y="59.16"/><rect x="118.31" y="64.30"/><rect x="164.61" y="66.87"/><rect x="51.44" y="46.30"/><rect x="138.89" y="133.75"/><rect x="59.16" y="36.01"/><rect x="146.61" y="123.46"/><rect x="95.17" y="64.30"/><rect x="164.61" y="7.72"/><rect x="97.74" y="51.44"/><rect x="146.61" y="48.87"/><rect x="92.59" y="28.29"/><rect x="95.17" y="69.45"/><rect x="138.89" y="2.57"/></g>
<g fill="#f0f0f0"><rect x="84.88" y="12.86"/><rect x="84.88" y="74.59"/><rect x="149.18" y="18.00"/><rect x="159.47" y="18.00"/><rect x="159.47" y="20.58"/><rect x="105.45" y="59.16"/><rect x="113.17" y="59.16"/><rect x="120.89" y="66.87"/><rect x="136.32" y="66.87"/><rect x="102.88" y="69.45"/><rect x="105.45" y="69.45"/><rect x="167.18" y="64.30"/><rect x="149.18" y="74.59"/><rect x="149.18" y="79.73"/><rect x="43.73" y="23.15"/><rect x="131.18" y="110.60"/><rect x="56.59" y="0.00"/><rect x="144.04" y="87.45"/><rect x="74.59" y="15.43"/><rect x="162.04" y="102.88"/><rect x="43.73" y="12.86"/><rect x="131.18" y="100.31"/><rect x="51.44" y="48.87"/><rect x="138.89" y="136.32"/><rect x="172.33" y="162.04"/><rect x="79.73" y="43.73"/><rect x="167.18" y="131.18"/><rect x="72.02" y="59.16"/><rect x="159.47" y="146.61"/><rect x="66.87" y="51.44"/><rect x="154.32" y="138.89"/><rect x="64.30" y="54.01"/><rect x="151.75" y="141.46"/><rect x="59.16" y="48.87"/><rect x="146.61" y="136.32"/><rect x="105.45" y="5.14"/><rect x="164.61" y="10.29"/><rect x="149.18" y="0.00"/><rect x="162.04" y="66.87"/></g>
<g fill="#f4f4f4"><rect x="84.88" y="25.72"/><rect x="84.88" y="33.44"/><rect x="84.88" y="38.58"/><rect x="84.88" y="61.73"/><rect x="172.33" y="126.03"/><rect x="54.01" y="36.01"/><rect x="141.46" y="123.46"/><rect x="59.16" y="43.73"/><rect x="146.61" y="131.18"/><rect x="38.58" y="5.14"/><rect x="126.03" y="92.59"/><rect x="82.31" y="56.59"/><rect x="169.76" y="144.04"/><rect x="74.59" y="36.01"/><rect x="162.04" y="123.46"/><rect x="41.15" y="12.86"/><rect x="128.60" y="100.31"/><rect x="82.31" y="69.45"/><rect x="169.76" y="156.90"/><rect x="41.15" y="36.01"/><rect x="128.60" y="123.46"/><rect x="10.29" y="5.14"/><rect x="97.74" y="92.59"/><rect x="46.30" y="18.00"/><rect x="133.75" y="105.45"/><rect x="105.45" y="18.00"/><rect x="95.17" y="0.00"/><rect x="138.89" y="79.73"/><rect x="156.90" y="36.01"/></g>
<g fill="#f8f8f8"><rect x="172.33" y="84.88"/><rect x="141.46" y="30.86"/><rect x="97.74" y="43.73"/><rect x="105.45" y="41.15"/></g>
</g>
<rect x="238.95" y="194.65" width="174.90" height="174.90" fill="none" stroke="#262262" stroke-width="3.7"/>
<line x1="298.9" y1="379.3" x2="298.9" y2="434.5" stroke="#6e6e6e" stroke-width="2.0"/>
<path d="M291.0 428.3 L298.9 442.5 L306.8 428.3 L298.9 431.5 Z" fill="#6e6e6e"/>
<line x1="241.4" y1="824.1" x2="241.4" y2="907.4" stroke="#6e6e6e" stroke-width="2.0"/>
<path d="M233.5 901.2 L241.4 915.4 L249.3 901.2 L241.4 904.4 Z" fill="#6e6e6e"/>
<text x="286.0" y="496.0" font-size="27" text-anchor="middle" fill="#000">Vectorized features</text>
<text x="456.0" y="581.0" font-size="27" text-anchor="end" fill="#000">1 × 1,122</text>
<text x="456.0" y="849.3" font-size="27" text-anchor="end" fill="#000">200 × 1,122</text>
<text x="51.5" y="713.0" font-size="27" text-anchor="middle" fill="#000" transform="rotate(-90 51.5 713.0)">Full feature</text>
<text x="83.0" y="713.0" font-size="27" text-anchor="middle" fill="#000" transform="rotate(-90 83.0 713.0)">matrix</text>
<rect x="143.42" y="510.5" width="18.06" height="35" fill="#fcfcfc"/>
<rect x="161.18" y="510.5" width="18.06" height="35" fill="#dcdcdc"/>
<rect x="178.94" y="510.5" width="18.06" height="35" fill="#000000"/>
<rect x="232.22" y="510.5" width="18.06" height="35" fill="#fbfbfb"/>
<rect x="267.74" y="510.5" width="18.06" height="35" fill="#a2a2a2"/>
<rect x="303.26" y="510.5" width="18.06" height="35" fill="#000000"/>
<rect x="321.02" y="510.5" width="18.06" height="35" fill="#666666"/>
<rect x="374.30" y="510.5" width="18.06" height="35" fill="#828282"/>
<rect x="392.06" y="510.5" width="18.06" height="35" fill="#c2c2c2"/>
<rect x="445.34" y="510.5" width="18.06" height="35" fill="#e4e4e4"/>
<rect x="107.85" y="510.55" width="355.6" height="35.1" fill="none" stroke="#262262" stroke-width="3.1"/>
<rect x="157.08" y="615.30" width="18.06" height="10.08" fill="#eeeeee"/>
<rect x="157.08" y="625.08" width="18.06" height="10.08" fill="#f8f8f8"/>
<rect x="157.08" y="634.86" width="18.06" height="10.08" fill="#fafafa"/>
<rect x="157.08" y="644.64" width="18.06" height="10.08" fill="#f8f8f8"/>
<rect x="157.08" y="664.20" width="18.06" height="10.08" fill="#d8d8d8"/>
<rect x="157.08" y="673.98" width="18.06" height="10.08" fill="#eaeaea"/>
<rect x="157.08" y="683.76" width="18.06" height="10.08" fill="#f6f6f6"/>
<rect x="157.08" y="693.54" width="18.06" height="10.08" fill="#eeeeee"/>
<rect x="157.08" y="703.32" width="18.06" height="10.08" fill="#eeeeee"/>
<rect x="157.08" y="713.10" width="18.06" height="10.08" fill="#dcdcdc"/>
<rect x="157.08" y="722.88" width="18.06" height="10.08" fill="#f8f8f8"/>
<rect x="157.08" y="732.66" width="18.06" height="10.08" fill="#fcfcfc"/>
<rect x="157.08" y="742.44" width="18.06" height="10.08" fill="#e0e0e0"/>
<rect x="157.08" y="752.22" width="18.06" height="10.08" fill="#f2f2f2"/>
<rect x="157.08" y="762.00" width="18.06" height="10.08" fill="#eeeeee"/>
<rect x="157.08" y="771.78" width="18.06" height="10.08" fill="#f0f0f0"/>
<rect x="157.08" y="781.56" width="18.06" height="10.08" fill="#eeeeee"/>
<rect x="157.08" y="791.34" width="18.06" height="10.08" fill="#f0f0f0"/>
<rect x="157.08" y="801.12" width="18.06" height="10.08" fill="#dcdcdc"/>
<rect x="174.84" y="615.30" width="18.06" height="10.08" fill="#a0a0a0"/>
<rect x="174.84" y="625.08" width="18.06" height="10.08" fill="#a8a8a8"/>
<rect x="174.84" y="634.86" width="18.06" height="10.08" fill="#787878"/>
<rect x="174.84" y="644.64" width="18.06" height="10.08" fill="#787878"/>
<rect x="174.84" y="654.42" width="18.06" height="10.08" fill="#989898"/>
<rect x="174.84" y="664.20" width="18.06" height="10.08" fill="#606060"/>
<rect x="174.84" y="673.98" width="18.06" height="10.08" fill="#a8a8a8"/>
<rect x="174.84" y="683.76" width="18.06" height="10.08" fill="#808080"/>
<rect x="174.84" y="693.54" width="18.06" height="10.08" fill="#989898"/>
<rect x="174.84" y="703.32" width="18.06" height="10.08" fill="#808080"/>
<rect x="174.84" y="713.10" width="18.06" height="10.08" fill="#747474"/>
<rect x="174.84" y="722.88" width="18.06" height="10.08" fill="#808080"/>
<rect x="174.84" y="732.66" width="18.06" height="10.08" fill="#686868"/>
<rect x="174.84" y="742.44" width="18.06" height="10.08" fill="#747474"/>
<rect x="174.84" y="752.22" width="18.06" height="10.08" fill="#6c6c6c"/>
<rect x="174.84" y="762.00" width="18.06" height="10.08" fill="#a8a8a8"/>
<rect x="174.84" y="771.78" width="18.06" height="10.08" fill="#848484"/>
<rect x="174.84" y="781.56" width="18.06" height="10.08" fill="#686868"/>
<rect x="174.84" y="791.34" width="18.06" height="10.08" fill="#585858"/>
<rect x="174.84" y="801.12" width="18.06" height="10.08" fill="#787878"/>
<rect x="192.60" y="664.20" width="18.06" height="10.08" fill="#fafafa"/>
<rect x="228.12" y="615.30" width="18.06" height="10.08" fill="#f6f6f6"/>
<rect x="228.12" y="644.64" width="18.06" height="10.08" fill="#fcfcfc"/>
<rect x="228.12" y="654.42" width="18.06" height="10.08" fill="#f8f8f8"/>
<rect x="228.12" y="664.20" width="18.06" height="10.08" fill="#f8f8f8"/>
<rect x="228.12" y="673.98" width="18.06" height="10.08" fill="#fcfcfc"/>
<rect x="228.12" y="703.32" width="18.06" height="10.08" fill="#f6f6f6"/>
<rect x="228.12" y="732.66" width="18.06" height="10.08" fill="#fcfcfc"/>
<rect x="228.12" y="742.44" width="18.06" height="10.08" fill="#fcfcfc"/>
<rect x="228.12" y="752.22" width="18.06" height="10.08" fill="#fcfcfc"/>
<rect x="228.12" y="762.00" width="18.06" height="10.08" fill="#fcfcfc"/>
<rect x="228.12" y="781.56" width="18.06" height="10.08" fill="#f8f8f8"/>
<rect x="228.12" y="791.34" width="18.06" height="10.08" fill="#f4f4f4"/>
<rect x="263.64" y="615.30" width="18.06" height="10.08" fill="#a0a0a0"/>
<rect x="263.64" y="625.08" width="18.06" height="10.08" fill="#ececec"/>
<rect x="263.64" y="634.86" width="18.06" height="10.08" fill="#d0d0d0"/>
<rect x="263.64" y="644.64" width="18.06" height="10.08" fill="#b8b8b8"/>
<rect x="263.64" y="654.42" width="18.06" height="10.08" fill="#c4c4c4"/>
<rect x="263.64" y="664.20" width="18.06" height="10.08" fill="#c8c8c8"/>
<rect x="263.64" y="673.98" width="18.06" height="10.08" fill="#a4a4a4"/>
<rect x="263.64" y="683.76" width="18.06" height="10.08" fill="#bcbcbc"/>
<rect x="263.64" y="693.54" width="18.06" height="10.08" fill="#e4e4e4"/>
<rect x="263.64" y="703.32" width="18.06" height="10.08" fill="#e0e0e0"/>
<rect x="263.64" y="713.10" width="18.06" height="10.08" fill="#9c9c9c"/>
<rect x="263.64" y="722.88" width="18.06" height="10.08" fill="#c4c4c4"/>
<rect x="263.64" y="732.66" width="18.06" height="10.08" fill="#b4b4b4"/>
<rect x="263.64" y="742.44" width="18.06" height="10.08" fill="#acacac"/>
<rect x="263.64" y="752.22" width="18.06" height="10.08" fill="#dcdcdc"/>
<rect x="263.64" y="762.00" width="18.06" height="10.08" fill="#e2e2e2"/>
<rect x="263.64" y="771.78" width="18.06" height="10.08" fill="#b0b0b0"/>
<rect x="263.64" y="781.56" width="18.06" height="10.08" fill="#c4c4c4"/>
<rect x="263.64" y="791.34" width="18.06" height="10.08" fill="#b4b4b4"/>
<rect x="263.64" y="801.12" width="18.06" height="10.08" fill="#ececec"/>
<rect x="299.16" y="615.30" width="18.06" height="10.08" fill="#646464"/>
<rect x="299.16" y="625.08" width="18.06" height="10.08" fill="#606060"/>
<rect x="299.16" y="634.86" width="18.06" height="10.08" fill="#000000"/>
<rect x="299.16" y="644.64" width="18.06" height="10.08" fill="#646464"/>
<rect x="299.16" y="654.42" width="18.06" height="10.08" fill="#9c9c9c"/>
<rect x="299.16" y="664.20" width="18.06" height="10.08" fill="#707070"/>
<rect x="299.16" y="673.98" width="18.06" height="10.08" fill="#282828"/>
<rect x="299.16" y="683.76" width="18.06" height="10.08" fill="#585858"/>
<rect x="299.16" y="693.54" width="18.06" height="10.08" fill="#909090"/>
<rect x="299.16" y="703.32" width="18.06" height="10.08" fill="#8c8c8c"/>
<rect x="299.16" y="713.10" width="18.06" height="10.08" fill="#585858"/>
<rect x="299.16" y="722.88" width="18.06" height="10.08" fill="#242424"/>
<rect x="299.16" y="732.66" width="18.06" height="10.08" fill="#6c6c6c"/>
<rect x="299.16" y="742.44" width="18.06" height="10.08" fill="#707070"/>
<rect x="299.16" y="752.22" width="18.06" height="10.08" fill="#646464"/>
<rect x="299.16" y="762.00" width="18.06" height="10.08" fill="#808080"/>
<rect x="299.16" y="771.78" width="18.06" height="10.08" fill="#949494"/>
<rect x="299.16" y="781.56" width="18.06" height="10.08" fill="#383838"/>
<rect x="299.16" y="791.34" width="18.06" height="10.08" fill="#484848"/>
<rect x="299.16" y="801.12" width="18.06" height="10.08" fill="#343434"/>
<rect x="316.92" y="615.30" width="18.06" height="10.08" fill="#f8f8f8"/>
<rect x="316.92" y="625.08" width="18.06" height="10.08" fill="#d4d4d4"/>
<rect x="316.92" y="634.86" width="18.06" height="10.08" fill="#f4f4f4"/>
<rect x="316.92" y="644.64" width="18.06" height="10.08" fill="#fafafa"/>
<rect x="316.92" y="654.42" width="18.06" height="10.08" fill="#fafafa"/>
<rect x="316.92" y="664.20" width="18.06" height="10.08" fill="#e8e8e8"/>
<rect x="316.92" y="673.98" width="18.06" height="10.08" fill="#f8f8f8"/>
<rect x="316.92" y="683.76" width="18.06" height="10.08" fill="#f8f8f8"/>
<rect x="316.92" y="693.54" width="18.06" height="10.08" fill="#f2f2f2"/>
<rect x="316.92" y="703.32" width="18.06" height="10.08" fill="#fcfcfc"/>
<rect x="316.92" y="713.10" width="18.06" height="10.08" fill="#fcfcfc"/>
<rect x="316.92" y="722.88" width="18.06" height="10.08" fill="#eaeaea"/>
<rect x="316.92" y="732.66" width="18.06" height="10.08" fill="#ececec"/>
<rect x="316.92" y="752.22" width="18.06" height="10.08" fill="#f6f6f6"/>
<rect x="316.92" y="762.00" width="18.06" height="10.08" fill="#fcfcfc"/>
<rect x="316.92" y="771.78" width="18.06" height="10.08" fill="#f0f0f0"/>
<rect x="316.92" y="781.56" width="18.06" height="10.08" fill="#e6e6e6"/>
<rect x="316.92" y="791.34" width="18.06" height="10.08" fill="#eeeeee"/>
<rect x="316.92" y="801.12" width="18.06" height="10.08" fill="#f4f4f4"/>
<rect x="370.20" y="615.30" width="18.06" height="10.08" fill="#e4e4e4"/>
<rect x="370.20" y="625.08" width="18.06" height="10.08" fill="#e0e0e0"/>
<rect x="370.20" y="634.86" width="18.06" height="10.08" fill="#e4e4e4"/>
<rect x="370.20" y="644.64" width="18.06" height="10.08" fill="#e0e0e0"/>
<rect x="370.20" y="654.42" width="18.06" height="10.08" fill="#d4d4d4"/>
<rect x="370.20" y="664.20" width="18.06" height="10.08" fill="#e0e0e0"/>
<rect x="370.20" y="673.98" width="18.06" height="10.08" fill="#e0e0e0"/>
<rect x="370.20" y="683.76" width="18.06" height="10.08" fill="#e0e0e0"/>
<rect x="370.20" y="693.54" width="18.06" height="10.08" fill="#e0e0e0"/>
<rect x="370.20" y="703.32" width="18.06" height="10.08" fill="#d8d8d8"/>
<rect x="370.20" y="713.10" width="18.06" height="10.08" fill="#e0e0e0"/>
<rect x="370.20" y="722.88" width="18.06" height="10.08" fill="#dcdcdc"/>
<rect x="370.20" y="732.66" width="18.06" height="10.08" fill="#dcdcdc"/>
<rect x="370.20" y="742.44" width="18.06" height="10.08" fill="#dcdcdc"/>
<rect x="370.20" y="752.22" width="18.06" height="10.08" fill="#e0e0e0"/>
<rect x="370.20" y="762.00" width="18.06" height="10.08" fill="#e0e0e0"/>
<rect x="370.20" y="771.78" width="18.06" height="10.08" fill="#e2e2e2"/>
<rect x="370.20" y="781.56" width="18.06" height="10.08" fill="#e4e4e4"/>
<rect x="370.20" y="791.34" width="18.06" height="10.08" fill="#d0d0d0"/>
<rect x="370.20" y="801.12" width="18.06" height="10.08" fill="#e0e0e0"/>
<rect x="387.96" y="615.30" width="18.06" height="10.08" fill="#f0f0f0"/>
<rect x="387.96" y="625.08" width="18.06" height="10.08" fill="#f4f4f4"/>
<rect x="387.96" y="634.86" width="18.06" height="10.08" fill="#f4f4f4"/>
<rect x="387.96" y="644.64" width="18.06" height="10.08" fill="#e8e8e8"/>
<rect x="387.96" y="654.42" width="18.06" height="10.08" fill="#dcdcdc"/>
<rect x="387.96" y="664.20" width="18.06" height="10.08" fill="#eaeaea"/>
<rect x="387.96" y="673.98" width="18.06" height="10.08" fill="#fafafa"/>
<rect x="387.96" y="683.76" width="18.06" height="10.08" fill="#fafafa"/>
<rect x="387.96" y="693.54" width="18.06" height="10.08" fill="#e8e8e8"/>
<rect x="387.96" y="703.32" width="18.06" height="10.08" fill="#e8e8e8"/>
<rect x="387.96" y="713.10" width="18.06" height="10.08" fill="#f4f4f4"/>
<rect x="387.96" y="722.88" width="18.06" height="10.08" fill="#dcdcdc"/>
<rect x="387.96" y="732.66" width="18.06" height="10.08" fill="#e8e8e8"/>
<rect x="387.96" y="742.44" width="18.06" height="10.08" fill="#e4e4e4"/>
<rect x="387.96" y="752.22" width="18.06" height="10.08" fill="#ececec"/>
<rect x="387.96" y="762.00" width="18.06" height="10.08" fill="#e8e8e8"/>
<rect x="387.96" y="771.78" width="18.06" height="10.08" fill="#f0f0f0"/>
<rect x="387.96" y="781.56" width="18.06" height="10.08" fill="#eeeeee"/>
<rect x="387.96" y="791.34" width="18.06" height="10.08" fill="#f4f4f4"/>
<rect x="387.96" y="801.12" width="18.06" height="10.08" fill="#e4e4e4"/>
<rect x="441.24" y="625.08" width="18.06" height="10.08" fill="#fafafa"/>
<rect x="441.24" y="644.64" width="18.06" height="10.08" fill="#fafafa"/>
<rect x="441.24" y="654.42" width="18.06" height="10.08" fill="#f8f8f8"/>
<rect x="441.24" y="664.20" width="18.06" height="10.08" fill="#fafafa"/>
<rect x="441.24" y="683.76" width="18.06" height="10.08" fill="#fcfcfc"/>
<rect x="441.24" y="722.88" width="18.06" height="10.08" fill="#fcfcfc"/>
<rect x="441.24" y="752.22" width="18.06" height="10.08" fill="#f4f4f4"/>
<rect x="441.24" y="762.00" width="18.06" height="10.08" fill="#fafafa"/>
<rect x="441.24" y="781.56" width="18.06" height="10.08" fill="#fafafa"/>
<rect x="104.65" y="615.55" width="355.20" height="195.80" fill="none" stroke="#262262" stroke-width="3.1"/>
<rect x="115.05" y="940.90" width="17.35" height="13.72" fill="#eeeeee"/>
<rect x="115.05" y="954.32" width="17.35" height="13.72" fill="#f8f8f8"/>
<rect x="115.05" y="967.74" width="17.35" height="13.72" fill="#fafafa"/>
<rect x="115.05" y="981.16" width="17.35" height="13.72" fill="#f8f8f8"/>
<rect x="115.05" y="1008.00" width="17.35" height="13.72" fill="#d8d8d8"/>
<rect x="115.05" y="1021.42" width="17.35" height="13.72" fill="#eaeaea"/>
<rect x="115.05" y="1034.84" width="17.35" height="13.72" fill="#f6f6f6"/>
<rect x="115.05" y="1048.26" width="17.35" height="13.72" fill="#eeeeee"/>
<rect x="115.05" y="1061.68" width="17.35" height="13.72" fill="#eeeeee"/>
<rect x="132.10" y="940.90" width="17.35" height="13.72" fill="#a0a0a0"/>
<rect x="132.10" y="954.32" width="17.35" height="13.72" fill="#a8a8a8"/>
<rect x="132.10" y="967.74" width="17.35" height="13.72" fill="#787878"/>
<rect x="132.10" y="981.16" width="17.35" height="13.72" fill="#787878"/>
<rect x="132.10" y="994.58" width="17.35" height="13.72" fill="#989898"/>
<rect x="132.10" y="1008.00" width="17.35" height="13.72" fill="#606060"/>
<rect x="132.10" y="1021.42" width="17.35" height="13.72" fill="#a8a8a8"/>
<rect x="132.10" y="1034.84" width="17.35" height="13.72" fill="#808080"/>
<rect x="132.10" y="1048.26" width="17.35" height="13.72" fill="#989898"/>
<rect x="132.10" y="1061.68" width="17.35" height="13.72" fill="#808080"/>
<rect x="149.15" y="1008.00" width="17.35" height="13.72" fill="#fafafa"/>
<rect x="183.25" y="940.90" width="17.35" height="13.72" fill="#f6f6f6"/>
<rect x="183.25" y="981.16" width="17.35" height="13.72" fill="#fcfcfc"/>
<rect x="183.25" y="994.58" width="17.35" height="13.72" fill="#f8f8f8"/>
<rect x="183.25" y="1008.00" width="17.35" height="13.72" fill="#f8f8f8"/>
<rect x="183.25" y="1021.42" width="17.35" height="13.72" fill="#fcfcfc"/>
<rect x="183.25" y="1061.68" width="17.35" height="13.72" fill="#f6f6f6"/>
<rect x="217.35" y="940.90" width="17.35" height="13.72" fill="#a0a0a0"/>
<rect x="217.35" y="954.32" width="17.35" height="13.72" fill="#ececec"/>
<rect x="217.35" y="967.74" width="17.35" height="13.72" fill="#d0d0d0"/>
<rect x="217.35" y="981.16" width="17.35" height="13.72" fill="#b8b8b8"/>
<rect x="217.35" y="994.58" width="17.35" height="13.72" fill="#c4c4c4"/>
<rect x="217.35" y="1008.00" width="17.35" height="13.72" fill="#c8c8c8"/>
<rect x="217.35" y="1021.42" width="17.35" height="13.72" fill="#a4a4a4"/>
<rect x="217.35" y="1034.84" width="17.35" height="13.72" fill="#bcbcbc"/>
<rect x="217.35" y="1048.26" width="17.35" height="13.72" fill="#e4e4e4"/>
<rect x="217.35" y="1061.68" width="17.35" height="13.72" fill="#e0e0e0"/>
<rect x="251.45" y="940.90" width="17.35" height="13.72" fill="#646464"/>
<rect x="251.45" y="954.32" width="17.35" height="13.72" fill="#606060"/>
<rect x="251.45" y="967.74" width="17.35" height="13.72" fill="#000000"/>
<rect x="251.45" y="981.16" width="17.35" height="13.72" fill="#646464"/>
<rect x="251.45" y="994.58" width="17.35" height="13.72" fill="#9c9c9c"/>
<rect x="251.45" y="1008.00" width="17.35" height="13.72" fill="#707070"/>
<rect x="251.45" y="1021.42" width="17.35" height="13.72" fill="#282828"/>
<rect x="251.45" y="1034.84" width="17.35" height="13.72" fill="#585858"/>
<rect x="251.45" y="1048.26" width="17.35" height="13.72" fill="#909090"/>
<rect x="251.45" y="1061.68" width="17.35" height="13.72" fill="#8c8c8c"/>
<rect x="268.50" y="940.90" width="17.35" height="13.72" fill="#f8f8f8"/>
<rect x="268.50" y="954.32" width="17.35" height="13.72" fill="#d4d4d4"/>
<rect x="268.50" y="967.74" width="17.35" height="13.72" fill="#f4f4f4"/>
<rect x="268.50" y="981.16" width="17.35" height="13.72" fill="#fafafa"/>
<rect x="268.50" y="994.58" width="17.35" height="13.72" fill="#fafafa"/>
<rect x="268.50" y="1008.00" width="17.35" height="13.72" fill="#e8e8e8"/>
<rect x="268.50" y="1021.42" width="17.35" height="13.72" fill="#f8f8f8"/>
<rect x="268.50" y="1034.84" width="17.35" height="13.72" fill="#f8f8f8"/>
<rect x="268.50" y="1048.26" width="17.35" height="13.72" fill="#f2f2f2"/>
<rect x="268.50" y="1061.68" width="17.35" height="13.72" fill="#fcfcfc"/>
<rect x="319.65" y="940.90" width="17.35" height="13.72" fill="#e4e4e4"/>
<rect x="319.65" y="954.32" width="17.35" height="13.72" fill="#e0e0e0"/>
<rect x="319.65" y="967.74" width="17.35" height="13.72" fill="#e4e4e4"/>
<rect x="319.65" y="981.16" width="17.35" height="13.72" fill="#e0e0e0"/>
<rect x="319.65" y="994.58" width="17.35" height="13.72" fill="#d4d4d4"/>
<rect x="319.65" y="1008.00" width="17.35" height="13.72" fill="#e0e0e0"/>
<rect x="319.65" y="1021.42" width="17.35" height="13.72" fill="#e0e0e0"/>
<rect x="319.65" y="1034.84" width="17.35" height="13.72" fill="#e0e0e0"/>
<rect x="319.65" y="1048.26" width="17.35" height="13.72" fill="#e0e0e0"/>
<rect x="319.65" y="1061.68" width="17.35" height="13.72" fill="#d8d8d8"/>
<rect x="336.70" y="940.90" width="17.35" height="13.72" fill="#f0f0f0"/>
<rect x="336.70" y="954.32" width="17.35" height="13.72" fill="#f4f4f4"/>
<rect x="336.70" y="967.74" width="17.35" height="13.72" fill="#f4f4f4"/>
<rect x="336.70" y="981.16" width="17.35" height="13.72" fill="#e8e8e8"/>
<rect x="336.70" y="994.58" width="17.35" height="13.72" fill="#dcdcdc"/>
<rect x="336.70" y="1008.00" width="17.35" height="13.72" fill="#eaeaea"/>
<rect x="336.70" y="1021.42" width="17.35" height="13.72" fill="#fafafa"/>
<rect x="336.70" y="1034.84" width="17.35" height="13.72" fill="#fafafa"/>
<rect x="336.70" y="1048.26" width="17.35" height="13.72" fill="#e8e8e8"/>
<rect x="336.70" y="1061.68" width="17.35" height="13.72" fill="#e8e8e8"/>
<rect x="387.85" y="954.32" width="17.35" height="13.72" fill="#fafafa"/>
<rect x="387.85" y="981.16" width="17.35" height="13.72" fill="#fafafa"/>
<rect x="387.85" y="994.58" width="17.35" height="13.72" fill="#f8f8f8"/>
<rect x="387.85" y="1008.00" width="17.35" height="13.72" fill="#fafafa"/>
<rect x="387.85" y="1034.84" width="17.35" height="13.72" fill="#fcfcfc"/>
<rect x="65.25" y="940.95" width="339.40" height="134.30" fill="none" stroke="#262262" stroke-width="3.3"/>
<rect x="117.75" y="1106.30" width="17.35" height="13.80" fill="#eeeeee"/>
<rect x="117.75" y="1119.80" width="17.35" height="13.80" fill="#f0f0f0"/>
<rect x="117.75" y="1133.30" width="17.35" height="13.80" fill="#eeeeee"/>
<rect x="117.75" y="1146.80" width="17.35" height="13.80" fill="#f0f0f0"/>
<rect x="117.75" y="1160.30" width="17.35" height="13.80" fill="#dcdcdc"/>
<rect x="134.80" y="1106.30" width="17.35" height="13.80" fill="#a8a8a8"/>
<rect x="134.80" y="1119.80" width="17.35" height="13.80" fill="#848484"/>
<rect x="134.80" y="1133.30" width="17.35" height="13.80" fill="#686868"/>
<rect x="134.80" y="1146.80" width="17.35" height="13.80" fill="#585858"/>
<rect x="134.80" y="1160.30" width="17.35" height="13.80" fill="#787878"/>
<rect x="185.95" y="1106.30" width="17.35" height="13.80" fill="#fcfcfc"/>
<rect x="185.95" y="1133.30" width="17.35" height="13.80" fill="#f8f8f8"/>
<rect x="185.95" y="1146.80" width="17.35" height="13.80" fill="#f4f4f4"/>
<rect x="220.05" y="1106.30" width="17.35" height="13.80" fill="#e2e2e2"/>
<rect x="220.05" y="1119.80" width="17.35" height="13.80" fill="#b0b0b0"/>
<rect x="220.05" y="1133.30" width="17.35" height="13.80" fill="#c4c4c4"/>
<rect x="220.05" y="1146.80" width="17.35" height="13.80" fill="#b4b4b4"/>
<rect x="220.05" y="1160.30" width="17.35" height="13.80" fill="#ececec"/>
<rect x="254.15" y="1106.30" width="17.35" height="13.80" fill="#808080"/>
<rect x="254.15" y="1119.80" width="17.35" height="13.80" fill="#949494"/>
<rect x="254.15" y="1133.30" width="17.35" height="13.80" fill="#383838"/>
<rect x="254.15" y="1146.80" width="17.35" height="13.80" fill="#484848"/>
<rect x="254.15" y="1160.30" width="17.35" height="13.80" fill="#343434"/>
<rect x="271.20" y="1106.30" width="17.35" height="13.80" fill="#fcfcfc"/>
<rect x="271.20" y="1119.80" width="17.35" height="13.80" fill="#f0f0f0"/>
<rect x="271.20" y="1133.30" width="17.35" height="13.80" fill="#e6e6e6"/>
<rect x="271.20" y="1146.80" width="17.35" height="13.80" fill="#eeeeee"/>
<rect x="271.20" y="1160.30" width="17.35" height="13.80" fill="#f4f4f4"/>
<rect x="322.35" y="1106.30" width="17.35" height="13.80" fill="#e0e0e0"/>
<rect x="322.35" y="1119.80" width="17.35" height="13.80" fill="#e2e2e2"/>
<rect x="322.35" y="1133.30" width="17.35" height="13.80" fill="#e4e4e4"/>
<rect x="322.35" y="1146.80" width="17.35" height="13.80" fill="#d0d0d0"/>
<rect x="322.35" y="1160.30" width="17.35" height="13.80" fill="#e0e0e0"/>
<rect x="339.40" y="1106.30" width="17.35" height="13.80" fill="#e8e8e8"/>
<rect x="339.40" y="1119.80" width="17.35" height="13.80" fill="#f0f0f0"/>
<rect x="339.40" y="1133.30" width="17.35" height="13.80" fill="#eeeeee"/>
<rect x="339.40" y="1146.80" width="17.35" height="13.80" fill="#f4f4f4"/>
<rect x="339.40" y="1160.30" width="17.35" height="13.80" fill="#e4e4e4"/>
<rect x="390.55" y="1106.30" width="17.35" height="13.80" fill="#fafafa"/>
<rect x="390.55" y="1133.30" width="17.35" height="13.80" fill="#fafafa"/>
<rect x="67.85" y="1106.15" width="339.50" height="68.40" fill="none" stroke="#262262" stroke-width="3.3"/>
<rect x="425" y="940.90" width="23.5" height="13.7" fill="#585858"/>
<rect x="425" y="954.32" width="23.5" height="13.7" fill="#303030"/>
<rect x="425" y="967.74" width="23.5" height="13.7" fill="#7c7c7c"/>
<rect x="425" y="981.16" width="23.5" height="13.7" fill="#000000"/>
<rect x="425" y="994.58" width="23.5" height="13.7" fill="#b8b8b8"/>
<rect x="425" y="1008.00" width="23.5" height="13.7" fill="#ffffff"/>
<rect x="425" y="1021.42" width="23.5" height="13.7" fill="#484848"/>
<rect x="425" y="1034.84" width="23.5" height="13.7" fill="#d8d8d8"/>
<rect x="425" y="1048.26" width="23.5" height="13.7" fill="#585858"/>
<rect x="425" y="1061.68" width="23.5" height="13.7" fill="#989898"/>
<rect x="425.25" y="940.95" width="23.0" height="134.3" fill="none" stroke="#262262" stroke-width="3.3"/>
<rect x="426" y="1106.30" width="23.5" height="13.8" fill="#e0e0e0"/>
<rect x="426" y="1119.80" width="23.5" height="13.8" fill="#a0a0a0"/>
<rect x="426" y="1133.30" width="23.5" height="13.8" fill="#a8a8a8"/>
<rect x="426" y="1146.80" width="23.5" height="13.8" fill="#f0f0f0"/>
<rect x="426" y="1160.30" width="23.5" height="13.8" fill="#888888"/>
<rect x="426.35" y="1106.15" width="22.6" height="68.4" fill="none" stroke="#262262" stroke-width="3.3"/>
<path d="M43.3 928.3 H505.2" stroke="#000" stroke-width="3.4" fill="none" stroke-dasharray="10.9 11.06" stroke-dashoffset="5.45"/>
<path d="M43.3 1190.2 H505.2" stroke="#000" stroke-width="3.4" fill="none" stroke-dasharray="10.9 11.06" stroke-dashoffset="5.45"/>
<path d="M43.3 926.6 V1191.9" stroke="#000" stroke-width="3.4" fill="none" stroke-dasharray="10.4 10.85" stroke-dashoffset="2.3"/>
<path d="M505.2 926.6 V1191.9" stroke="#000" stroke-width="3.4" fill="none" stroke-dasharray="10.7 10.9" stroke-dashoffset="3.5"/>
<text x="23.2" y="1051.3" font-size="31.4" text-anchor="middle" fill="#000" transform="rotate(-90 23.2 1051.3)">Subjects</text>
<text x="524.7" y="1058.1" font-size="31.4" text-anchor="middle" fill="#000" transform="rotate(90 524.7 1058.1)">Behavioral score</text>
<text x="459.0" y="1013.2" font-size="31.4" text-anchor="middle" fill="#000" transform="rotate(90 459.0 1013.2)">Train</text>
<text x="459.0" y="1135.4" font-size="31.4" text-anchor="middle" fill="#000" transform="rotate(90 459.0 1135.4)">Test</text>
<text x="505.0" y="1228.0" font-size="27" text-anchor="end" fill="#000">Recursive</text>
<text x="505.0" y="1260.0" font-size="27" text-anchor="end" fill="#000">feature</text>
<text x="505.0" y="1292.0" font-size="27" text-anchor="end" fill="#000">elimination</text>
<path d="M245.9 1210.7 A29.05 27.2 0 1 0 258.5 1213.0" fill="none" stroke="#000" stroke-width="2.1"/>
<path d="M247.2 1210.4 L262.7 1205.1 L258.6 1212.3 L259.7 1221 Z" fill="#000"/>
<text x="566.0" y="24.4" font-size="31" text-anchor="start" fill="#000" font-weight="bold">b</text>
<text x="837.4" y="31.6" font-size="27" text-anchor="middle" fill="#000">Overall</text>
<line x1="699.5" y1="70.4" x2="736.1" y2="70.4" stroke="#662d91" stroke-width="3.6"/>
<circle cx="717.8" cy="70.4" r="8.15" fill="#662d91"/>
<text x="747.2" y="82.8" font-size="27" text-anchor="start" fill="#000">ReAl-LiFE</text>
<line x1="699.5" y1="106.3" x2="736.1" y2="106.3" stroke="#be1e2d" stroke-width="3.6"/>
<circle cx="717.8" cy="106.3" r="8.15" fill="#be1e2d"/>
<text x="747.6" y="119.0" font-size="27" text-anchor="start" fill="#000">Unpruned</text>
<line x1="686.0" y1="140.9" x2="686.0" y2="447.6" stroke="#707070" stroke-width="2.0"/>
<line x1="685.0" y1="447.0" x2="989.9" y2="447.0" stroke="#1a1a1a" stroke-width="1.2"/>
<line x1="685.0" y1="141.4" x2="696.0" y2="141.4" stroke="#000" stroke-width="1.1"/>
<line x1="686.0" y1="217.9" x2="696.0" y2="217.9" stroke="#707070" stroke-width="2.0"/>
<line x1="686.0" y1="294.2" x2="696.0" y2="294.2" stroke="#707070" stroke-width="2.0"/>
<line x1="686.0" y1="370.4" x2="696.0" y2="370.4" stroke="#707070" stroke-width="2.0"/>
<text x="666.5" y="150.0" font-size="27" text-anchor="end" fill="#000">40</text>
<text x="666.5" y="226.7" font-size="27" text-anchor="end" fill="#000">30</text>
<text x="666.5" y="303.2" font-size="27" text-anchor="end" fill="#000">20</text>
<text x="666.5" y="379.4" font-size="27" text-anchor="end" fill="#000">10</text>
<text x="666.5" y="456.0" font-size="27" text-anchor="end" fill="#000">0</text>
<line x1="837.7" y1="447.0" x2="837.7" y2="438.0" stroke="#000" stroke-width="1.1"/>
<line x1="989.4" y1="447.0" x2="989.4" y2="438.0" stroke="#000" stroke-width="1.1"/>
<text x="685.0" y="486.3" font-size="27" text-anchor="middle" fill="#000">10<tspan font-size="17.8" dy="-12.2">−5</tspan></text>
<text x="836.7" y="486.3" font-size="27" text-anchor="middle" fill="#000">10<tspan font-size="17.8" dy="-12.2">−3</tspan></text>
<text x="988.4" y="486.3" font-size="27" text-anchor="middle" fill="#000">10<tspan font-size="17.8" dy="-12.2">−1</tspan></text>
<text x="611.0" y="298.5" font-size="27" text-anchor="middle" fill="#000" transform="rotate(-90 611.0 298.5)">No. of scores</text>
<path d="M686.0 431.7 L739.0 401.1 L761.9 385.8 L814.9 355.2 L837.7 324.6 L890.7 263.4 L913.5 248.1 L966.6 163.9" fill="none" stroke="#be1e2d" stroke-width="5.6" stroke-linejoin="round"/>
<circle cx="966.6" cy="163.9" r="10.85" fill="#be1e2d" stroke="#fff" stroke-width="1.5"/>
<circle cx="913.5" cy="248.1" r="10.85" fill="#be1e2d" stroke="#fff" stroke-width="1.5"/>
<circle cx="890.7" cy="263.4" r="10.85" fill="#be1e2d" stroke="#fff" stroke-width="1.5"/>
<circle cx="837.7" cy="324.6" r="10.85" fill="#be1e2d" stroke="#fff" stroke-width="1.5"/>
<circle cx="814.9" cy="355.2" r="10.85" fill="#be1e2d" stroke="#fff" stroke-width="1.5"/>
<circle cx="761.9" cy="385.8" r="10.85" fill="#be1e2d" stroke="#fff" stroke-width="1.5"/>
<circle cx="739.0" cy="401.1" r="10.85" fill="#be1e2d" stroke="#fff" stroke-width="1.5"/>
<circle cx="686.0" cy="431.7" r="10.85" fill="#be1e2d" stroke="#fff" stroke-width="1.5"/>
<path d="M686.0 393.4 L739.0 378.1 L761.9 378.1 L814.9 355.2 L837.7 355.2 L890.7 294.0 L913.5 255.8 L966.6 171.6" fill="none" stroke="#662d91" stroke-width="5.6" stroke-linejoin="round"/>
<circle cx="966.6" cy="171.6" r="10.85" fill="#662d91" stroke="#fff" stroke-width="1.5"/>
<circle cx="913.5" cy="255.8" r="10.85" fill="#662d91" stroke="#fff" stroke-width="1.5"/>
<circle cx="890.7" cy="294.0" r="10.85" fill="#662d91" stroke="#fff" stroke-width="1.5"/>
<circle cx="837.7" cy="355.2" r="10.85" fill="#662d91" stroke="#fff" stroke-width="1.5"/>
<circle cx="814.9" cy="355.2" r="10.85" fill="#662d91" stroke="#fff" stroke-width="1.5"/>
<circle cx="761.9" cy="378.1" r="10.85" fill="#662d91" stroke="#fff" stroke-width="1.5"/>
<circle cx="739.0" cy="378.1" r="10.85" fill="#662d91" stroke="#fff" stroke-width="1.5"/>
<circle cx="686.0" cy="393.4" r="10.85" fill="#662d91" stroke="#fff" stroke-width="1.5"/>
<line x1="686.0" y1="517.5" x2="686.0" y2="824.6" stroke="#707070" stroke-width="2.0"/>
<line x1="685.0" y1="824.0" x2="989.9" y2="824.0" stroke="#1a1a1a" stroke-width="1.2"/>
<line x1="685.0" y1="518.0" x2="696.0" y2="518.0" stroke="#000" stroke-width="1.1"/>
<line x1="685.0" y1="620.4" x2="696.0" y2="620.4" stroke="#000" stroke-width="1.1"/>
<line x1="685.0" y1="722.3" x2="696.0" y2="722.3" stroke="#000" stroke-width="1.1"/>
<text x="666.5" y="535.3" font-size="27" text-anchor="end" fill="#000">0.40</text>
<text x="666.5" y="634.6" font-size="27" text-anchor="end" fill="#000">0.34</text>
<text x="666.5" y="734.1" font-size="27" text-anchor="end" fill="#000">0.28</text>
<text x="666.5" y="829.4" font-size="27" text-anchor="end" fill="#000">0.22</text>
<line x1="837.7" y1="824.0" x2="837.7" y2="815.0" stroke="#000" stroke-width="1.1"/>
<line x1="989.4" y1="824.0" x2="989.4" y2="815.0" stroke="#000" stroke-width="1.1"/>
<text x="685.0" y="864.7" font-size="27" text-anchor="middle" fill="#000">10<tspan font-size="17.8" dy="-12.2">−5</tspan></text>
<text x="836.7" y="864.7" font-size="27" text-anchor="middle" fill="#000">10<tspan font-size="17.8" dy="-12.2">−3</tspan></text>
<text x="988.4" y="864.7" font-size="27" text-anchor="middle" fill="#000">10<tspan font-size="17.8" dy="-12.2">−1</tspan></text>
<text x="835.0" y="910.3" font-size="27" text-anchor="middle" fill="#000"><tspan font-style="italic">P</tspan>-value threshold</text>
<path d="M686.0 562.5 L739.0 652.8 L761.9 672.0 L814.9 701.6 L837.7 724.7 L890.7 760.9 L913.5 769.7 L966.6 816.0" fill="none" stroke="#be1e2d" stroke-width="5.6" stroke-linejoin="round"/>
<circle cx="966.6" cy="816.0" r="10.85" fill="#be1e2d" stroke="#fff" stroke-width="1.5"/>
<circle cx="913.5" cy="769.7" r="10.85" fill="#be1e2d" stroke="#fff" stroke-width="1.5"/>
<circle cx="890.7" cy="760.9" r="10.85" fill="#be1e2d" stroke="#fff" stroke-width="1.5"/>
<circle cx="837.7" cy="724.7" r="10.85" fill="#be1e2d" stroke="#fff" stroke-width="1.5"/>
<circle cx="814.9" cy="701.6" r="10.85" fill="#be1e2d" stroke="#fff" stroke-width="1.5"/>
<circle cx="761.9" cy="672.0" r="10.85" fill="#be1e2d" stroke="#fff" stroke-width="1.5"/>
<circle cx="739.0" cy="652.8" r="10.85" fill="#be1e2d" stroke="#fff" stroke-width="1.5"/>
<circle cx="686.0" cy="562.5" r="10.85" fill="#be1e2d" stroke="#fff" stroke-width="1.5"/>
<path d="M686.0 545.0 L739.0 579.4 L761.9 579.4 L814.9 625.7 L837.7 625.7 L890.7 710.7 L913.5 743.3 L966.6 798.8" fill="none" stroke="#662d91" stroke-width="5.6" stroke-linejoin="round"/>
<circle cx="966.6" cy="798.8" r="10.85" fill="#662d91" stroke="#fff" stroke-width="1.5"/>
<circle cx="913.5" cy="743.3" r="10.85" fill="#662d91" stroke="#fff" stroke-width="1.5"/>
<circle cx="890.7" cy="710.7" r="10.85" fill="#662d91" stroke="#fff" stroke-width="1.5"/>
<circle cx="837.7" cy="625.7" r="10.85" fill="#662d91" stroke="#fff" stroke-width="1.5"/>
<circle cx="814.9" cy="625.7" r="10.85" fill="#662d91" stroke="#fff" stroke-width="1.5"/>
<circle cx="761.9" cy="579.4" r="10.85" fill="#662d91" stroke="#fff" stroke-width="1.5"/>
<circle cx="739.0" cy="579.4" r="10.85" fill="#662d91" stroke="#fff" stroke-width="1.5"/>
<circle cx="686.0" cy="545.0" r="10.85" fill="#662d91" stroke="#fff" stroke-width="1.5"/>
<text transform="translate(580.3 703.4) rotate(-90)" font-size="27" fill="#000"><tspan font-family="DejaVu Sans, sans-serif" font-size="28" dx="0" dy="2.8">⟨</tspan><tspan dx="2.8" dy="-2.8" font-style="italic" font-weight="bold">I</tspan><tspan font-family="DejaVu Sans, sans-serif" font-size="28" dx="1.6" dy="2.8">⟩</tspan><tspan font-size="17.4" dx="0.5" dy="5.8">avg</tspan></text>
<line x1="1316.1" y1="68.2" x2="1352.9" y2="68.2" stroke="#662d91" stroke-width="3.6"/>
<circle cx="1334.5" cy="68.2" r="8.15" fill="#662d91"/>
<text x="1367.8" y="80.7" font-size="27" text-anchor="start" fill="#000">ReAl-LiFE</text>
<line x1="1587.5" y1="69.5" x2="1624.1" y2="69.5" stroke="#be1e2d" stroke-width="3.6"/>
<circle cx="1605.8" cy="69.5" r="8.15" fill="#be1e2d"/>
<text x="1638.8" y="80.7" font-size="27" text-anchor="start" fill="#000">Unpruned</text>
<text x="1043.5" y="24.4" font-size="31" text-anchor="start" fill="#000" font-weight="bold">c</text>
<text x="1250.8" y="31.5" font-size="27" text-anchor="middle" fill="#000">Cognition</text>
<line x1="1148.4" y1="129.4" x2="1148.4" y2="328.7" stroke="#707070" stroke-width="2.0"/>
<line x1="1147.4" y1="130.0" x2="1152.9" y2="130.0" stroke="#000" stroke-width="1.1"/>
<line x1="1147.4" y1="196.1" x2="1152.9" y2="196.1" stroke="#000" stroke-width="1.1"/>
<line x1="1147.4" y1="262.3" x2="1152.9" y2="262.3" stroke="#000" stroke-width="1.1"/>
<text x="1132.4" y="139.6" font-size="27" text-anchor="end" fill="#000">12</text>
<text x="1132.4" y="205.7" font-size="27" text-anchor="end" fill="#000">8</text>
<text x="1132.4" y="271.9" font-size="27" text-anchor="end" fill="#000">4</text>
<text x="1132.4" y="337.8" font-size="27" text-anchor="end" fill="#000">0</text>
<line x1="1147.4" y1="328.2" x2="1348.2" y2="328.2" stroke="#1a1a1a" stroke-width="1.15"/>
<line x1="1163.4" y1="328.2" x2="1163.4" y2="326.0" stroke="#000" stroke-width="0.9"/>
<line x1="1172.2" y1="328.2" x2="1172.2" y2="326.0" stroke="#000" stroke-width="0.9"/>
<line x1="1178.4" y1="328.2" x2="1178.4" y2="326.0" stroke="#000" stroke-width="0.9"/>
<line x1="1183.2" y1="328.2" x2="1183.2" y2="326.0" stroke="#000" stroke-width="0.9"/>
<line x1="1187.2" y1="328.2" x2="1187.2" y2="326.0" stroke="#000" stroke-width="0.9"/>
<line x1="1190.5" y1="328.2" x2="1190.5" y2="326.0" stroke="#000" stroke-width="0.9"/>
<line x1="1193.4" y1="328.2" x2="1193.4" y2="326.0" stroke="#000" stroke-width="0.9"/>
<line x1="1195.9" y1="328.2" x2="1195.9" y2="326.0" stroke="#000" stroke-width="0.9"/>
<line x1="1198.2" y1="328.2" x2="1198.2" y2="324.6" stroke="#000" stroke-width="1.0"/>
<line x1="1213.2" y1="328.2" x2="1213.2" y2="326.0" stroke="#000" stroke-width="0.9"/>
<line x1="1222.0" y1="328.2" x2="1222.0" y2="326.0" stroke="#000" stroke-width="0.9"/>
<line x1="1228.2" y1="328.2" x2="1228.2" y2="326.0" stroke="#000" stroke-width="0.9"/>
<line x1="1233.1" y1="328.2" x2="1233.1" y2="326.0" stroke="#000" stroke-width="0.9"/>
<line x1="1237.0" y1="328.2" x2="1237.0" y2="326.0" stroke="#000" stroke-width="0.9"/>
<line x1="1240.3" y1="328.2" x2="1240.3" y2="326.0" stroke="#000" stroke-width="0.9"/>
<line x1="1243.2" y1="328.2" x2="1243.2" y2="326.0" stroke="#000" stroke-width="0.9"/>
<line x1="1245.8" y1="328.2" x2="1245.8" y2="326.0" stroke="#000" stroke-width="0.9"/>
<line x1="1248.1" y1="328.2" x2="1248.1" y2="324.6" stroke="#000" stroke-width="1.0"/>
<line x1="1263.0" y1="328.2" x2="1263.0" y2="326.0" stroke="#000" stroke-width="0.9"/>
<line x1="1271.8" y1="328.2" x2="1271.8" y2="326.0" stroke="#000" stroke-width="0.9"/>
<line x1="1278.0" y1="328.2" x2="1278.0" y2="326.0" stroke="#000" stroke-width="0.9"/>
<line x1="1282.9" y1="328.2" x2="1282.9" y2="326.0" stroke="#000" stroke-width="0.9"/>
<line x1="1286.8" y1="328.2" x2="1286.8" y2="326.0" stroke="#000" stroke-width="0.9"/>
<line x1="1290.2" y1="328.2" x2="1290.2" y2="326.0" stroke="#000" stroke-width="0.9"/>
<line x1="1293.0" y1="328.2" x2="1293.0" y2="326.0" stroke="#000" stroke-width="0.9"/>
<line x1="1295.6" y1="328.2" x2="1295.6" y2="326.0" stroke="#000" stroke-width="0.9"/>
<line x1="1297.9" y1="328.2" x2="1297.9" y2="324.6" stroke="#000" stroke-width="1.0"/>
<line x1="1312.9" y1="328.2" x2="1312.9" y2="326.0" stroke="#000" stroke-width="0.9"/>
<line x1="1321.6" y1="328.2" x2="1321.6" y2="326.0" stroke="#000" stroke-width="0.9"/>
<line x1="1327.9" y1="328.2" x2="1327.9" y2="326.0" stroke="#000" stroke-width="0.9"/>
<line x1="1332.7" y1="328.2" x2="1332.7" y2="326.0" stroke="#000" stroke-width="0.9"/>
<line x1="1336.6" y1="328.2" x2="1336.6" y2="326.0" stroke="#000" stroke-width="0.9"/>
<line x1="1340.0" y1="328.2" x2="1340.0" y2="326.0" stroke="#000" stroke-width="0.9"/>
<line x1="1342.9" y1="328.2" x2="1342.9" y2="326.0" stroke="#000" stroke-width="0.9"/>
<line x1="1345.4" y1="328.2" x2="1345.4" y2="326.0" stroke="#000" stroke-width="0.9"/>
<line x1="1347.7" y1="328.2" x2="1347.7" y2="324.6" stroke="#000" stroke-width="1.0"/>
<text x="1148.0" y="367.7" font-size="27" text-anchor="middle" fill="#000">10<tspan font-size="17.8" dy="-12.2">−5</tspan></text>
<text x="1248.0" y="367.7" font-size="27" text-anchor="middle" fill="#000">10<tspan font-size="17.8" dy="-12.2">−3</tspan></text>
<text x="1347.0" y="367.7" font-size="27" text-anchor="middle" fill="#000">10<tspan font-size="17.8" dy="-12.2">−1</tspan></text>
<path d="M1148.4 328.2 L1183.2 311.7 L1198.2 295.2 L1233.1 295.2 L1248.1 278.6 L1282.9 229.1 L1297.9 196.1 L1332.7 179.6" fill="none" stroke="#be1e2d" stroke-width="4.2" stroke-linejoin="round"/>
<circle cx="1332.7" cy="179.6" r="8.9" fill="#be1e2d" stroke="#fff" stroke-width="1.4"/>
<circle cx="1297.9" cy="196.1" r="8.9" fill="#be1e2d" stroke="#fff" stroke-width="1.4"/>
<circle cx="1282.9" cy="229.1" r="8.9" fill="#be1e2d" stroke="#fff" stroke-width="1.4"/>
<circle cx="1248.1" cy="278.6" r="8.9" fill="#be1e2d" stroke="#fff" stroke-width="1.4"/>
<circle cx="1233.1" cy="295.2" r="8.9" fill="#be1e2d" stroke="#fff" stroke-width="1.4"/>
<circle cx="1198.2" cy="295.2" r="8.9" fill="#be1e2d" stroke="#fff" stroke-width="1.4"/>
<circle cx="1183.2" cy="311.7" r="8.9" fill="#be1e2d" stroke="#fff" stroke-width="1.4"/>
<circle cx="1148.4" cy="328.2" r="8.9" fill="#be1e2d" stroke="#fff" stroke-width="1.4"/>
<path d="M1148.4 295.2 L1183.2 278.6 L1198.2 278.6 L1233.1 278.6 L1248.1 278.6 L1282.9 212.6 L1297.9 179.6 L1332.7 146.5" fill="none" stroke="#662d91" stroke-width="4.2" stroke-linejoin="round"/>
<circle cx="1332.7" cy="146.5" r="8.9" fill="#662d91" stroke="#fff" stroke-width="1.4"/>
<circle cx="1297.9" cy="179.6" r="8.9" fill="#662d91" stroke="#fff" stroke-width="1.4"/>
<circle cx="1282.9" cy="212.6" r="8.9" fill="#662d91" stroke="#fff" stroke-width="1.4"/>
<circle cx="1248.1" cy="278.6" r="8.9" fill="#662d91" stroke="#fff" stroke-width="1.4"/>
<circle cx="1233.1" cy="278.6" r="8.9" fill="#662d91" stroke="#fff" stroke-width="1.4"/>
<circle cx="1198.2" cy="278.6" r="8.9" fill="#662d91" stroke="#fff" stroke-width="1.4"/>
<circle cx="1183.2" cy="278.6" r="8.9" fill="#662d91" stroke="#fff" stroke-width="1.4"/>
<circle cx="1148.4" cy="295.2" r="8.9" fill="#662d91" stroke="#fff" stroke-width="1.4"/>
<text x="1087.0" y="230.0" font-size="27" text-anchor="middle" fill="#000" transform="rotate(-90 1087.0 230.0)">No. of scores</text>
<line x1="1147.3" y1="394.1" x2="1147.3" y2="596.7" stroke="#707070" stroke-width="2.0"/>
<line x1="1146.3" y1="394.7" x2="1151.8" y2="394.7" stroke="#000" stroke-width="1.1"/>
<line x1="1146.3" y1="455.3" x2="1151.8" y2="455.3" stroke="#000" stroke-width="1.1"/>
<line x1="1146.3" y1="515.3" x2="1151.8" y2="515.3" stroke="#000" stroke-width="1.1"/>
<line x1="1146.3" y1="576.2" x2="1151.8" y2="576.2" stroke="#000" stroke-width="1.1"/>
<text x="1132.3" y="404.5" font-size="27" text-anchor="end" fill="#000">0.42</text>
<text x="1132.3" y="465.1" font-size="27" text-anchor="end" fill="#000">0.36</text>
<text x="1132.3" y="525.1" font-size="27" text-anchor="end" fill="#000">0.30</text>
<text x="1132.3" y="586.0" font-size="27" text-anchor="end" fill="#000">0.24</text>
<line x1="1146.3" y1="596.2" x2="1348.2" y2="596.2" stroke="#1a1a1a" stroke-width="1.15"/>
<line x1="1162.4" y1="596.2" x2="1162.4" y2="594.0" stroke="#000" stroke-width="0.9"/>
<line x1="1171.2" y1="596.2" x2="1171.2" y2="594.0" stroke="#000" stroke-width="0.9"/>
<line x1="1177.5" y1="596.2" x2="1177.5" y2="594.0" stroke="#000" stroke-width="0.9"/>
<line x1="1182.3" y1="596.2" x2="1182.3" y2="594.0" stroke="#000" stroke-width="0.9"/>
<line x1="1186.3" y1="596.2" x2="1186.3" y2="594.0" stroke="#000" stroke-width="0.9"/>
<line x1="1189.6" y1="596.2" x2="1189.6" y2="594.0" stroke="#000" stroke-width="0.9"/>
<line x1="1192.5" y1="596.2" x2="1192.5" y2="594.0" stroke="#000" stroke-width="0.9"/>
<line x1="1195.1" y1="596.2" x2="1195.1" y2="594.0" stroke="#000" stroke-width="0.9"/>
<line x1="1197.4" y1="596.2" x2="1197.4" y2="592.6" stroke="#000" stroke-width="1.0"/>
<line x1="1212.5" y1="596.2" x2="1212.5" y2="594.0" stroke="#000" stroke-width="0.9"/>
<line x1="1221.3" y1="596.2" x2="1221.3" y2="594.0" stroke="#000" stroke-width="0.9"/>
<line x1="1227.6" y1="596.2" x2="1227.6" y2="594.0" stroke="#000" stroke-width="0.9"/>
<line x1="1232.4" y1="596.2" x2="1232.4" y2="594.0" stroke="#000" stroke-width="0.9"/>
<line x1="1236.4" y1="596.2" x2="1236.4" y2="594.0" stroke="#000" stroke-width="0.9"/>
<line x1="1239.7" y1="596.2" x2="1239.7" y2="594.0" stroke="#000" stroke-width="0.9"/>
<line x1="1242.6" y1="596.2" x2="1242.6" y2="594.0" stroke="#000" stroke-width="0.9"/>
<line x1="1245.2" y1="596.2" x2="1245.2" y2="594.0" stroke="#000" stroke-width="0.9"/>
<line x1="1247.5" y1="596.2" x2="1247.5" y2="592.6" stroke="#000" stroke-width="1.0"/>
<line x1="1262.6" y1="596.2" x2="1262.6" y2="594.0" stroke="#000" stroke-width="0.9"/>
<line x1="1271.4" y1="596.2" x2="1271.4" y2="594.0" stroke="#000" stroke-width="0.9"/>
<line x1="1277.7" y1="596.2" x2="1277.7" y2="594.0" stroke="#000" stroke-width="0.9"/>
<line x1="1282.5" y1="596.2" x2="1282.5" y2="594.0" stroke="#000" stroke-width="0.9"/>
<line x1="1286.5" y1="596.2" x2="1286.5" y2="594.0" stroke="#000" stroke-width="0.9"/>
<line x1="1289.8" y1="596.2" x2="1289.8" y2="594.0" stroke="#000" stroke-width="0.9"/>
<line x1="1292.7" y1="596.2" x2="1292.7" y2="594.0" stroke="#000" stroke-width="0.9"/>
<line x1="1295.3" y1="596.2" x2="1295.3" y2="594.0" stroke="#000" stroke-width="0.9"/>
<line x1="1297.6" y1="596.2" x2="1297.6" y2="592.6" stroke="#000" stroke-width="1.0"/>
<line x1="1312.7" y1="596.2" x2="1312.7" y2="594.0" stroke="#000" stroke-width="0.9"/>
<line x1="1321.5" y1="596.2" x2="1321.5" y2="594.0" stroke="#000" stroke-width="0.9"/>
<line x1="1327.8" y1="596.2" x2="1327.8" y2="594.0" stroke="#000" stroke-width="0.9"/>
<line x1="1332.6" y1="596.2" x2="1332.6" y2="594.0" stroke="#000" stroke-width="0.9"/>
<line x1="1336.6" y1="596.2" x2="1336.6" y2="594.0" stroke="#000" stroke-width="0.9"/>
<line x1="1339.9" y1="596.2" x2="1339.9" y2="594.0" stroke="#000" stroke-width="0.9"/>
<line x1="1342.8" y1="596.2" x2="1342.8" y2="594.0" stroke="#000" stroke-width="0.9"/>
<line x1="1345.4" y1="596.2" x2="1345.4" y2="594.0" stroke="#000" stroke-width="0.9"/>
<line x1="1347.7" y1="596.2" x2="1347.7" y2="592.6" stroke="#000" stroke-width="1.0"/>
<text x="1158.0" y="633.7" font-size="27" text-anchor="middle" fill="#000">10<tspan font-size="17.8" dy="-12.2">−5</tspan></text>
<text x="1248.5" y="633.7" font-size="27" text-anchor="middle" fill="#000">10<tspan font-size="17.8" dy="-12.2">−3</tspan></text>
<text x="1334.3" y="633.7" font-size="27" text-anchor="middle" fill="#000">10<tspan font-size="17.8" dy="-12.2">−1</tspan></text>
<path d="M1182.3 515.3 L1197.4 527.6 L1232.4 527.6 L1247.5 545.5 L1282.5 570.8 L1297.6 584.2 L1332.6 593.0" fill="none" stroke="#be1e2d" stroke-width="4.2" stroke-linejoin="round"/>
<circle cx="1332.6" cy="593.0" r="8.9" fill="#be1e2d" stroke="#fff" stroke-width="1.4"/>
<circle cx="1297.6" cy="584.2" r="8.9" fill="#be1e2d" stroke="#fff" stroke-width="1.4"/>
<circle cx="1282.5" cy="570.8" r="8.9" fill="#be1e2d" stroke="#fff" stroke-width="1.4"/>
<circle cx="1247.5" cy="545.5" r="8.9" fill="#be1e2d" stroke="#fff" stroke-width="1.4"/>
<circle cx="1232.4" cy="527.6" r="8.9" fill="#be1e2d" stroke="#fff" stroke-width="1.4"/>
<circle cx="1197.4" cy="527.6" r="8.9" fill="#be1e2d" stroke="#fff" stroke-width="1.4"/>
<circle cx="1182.3" cy="515.3" r="8.9" fill="#be1e2d" stroke="#fff" stroke-width="1.4"/>
<path d="M1147.3 410.0 L1182.3 447.3 L1197.4 447.3 L1232.4 447.3 L1247.5 447.3 L1282.5 538.8 L1297.6 558.8 L1332.6 575.4" fill="none" stroke="#662d91" stroke-width="4.2" stroke-linejoin="round"/>
<circle cx="1332.6" cy="575.4" r="8.9" fill="#662d91" stroke="#fff" stroke-width="1.4"/>
<circle cx="1297.6" cy="558.8" r="8.9" fill="#662d91" stroke="#fff" stroke-width="1.4"/>
<circle cx="1282.5" cy="538.8" r="8.9" fill="#662d91" stroke="#fff" stroke-width="1.4"/>
<circle cx="1247.5" cy="447.3" r="8.9" fill="#662d91" stroke="#fff" stroke-width="1.4"/>
<circle cx="1232.4" cy="447.3" r="8.9" fill="#662d91" stroke="#fff" stroke-width="1.4"/>
<circle cx="1197.4" cy="447.3" r="8.9" fill="#662d91" stroke="#fff" stroke-width="1.4"/>
<circle cx="1182.3" cy="447.3" r="8.9" fill="#662d91" stroke="#fff" stroke-width="1.4"/>
<circle cx="1147.3" cy="410.0" r="8.9" fill="#662d91" stroke="#fff" stroke-width="1.4"/>
<text x="1244.0" y="676.2" font-size="27" text-anchor="middle" fill="#000"><tspan font-style="italic">P</tspan>-value threshold</text>
<text transform="translate(1061.4 546.4) rotate(-90)" font-size="27" fill="#000"><tspan font-family="DejaVu Sans, sans-serif" font-size="28" dx="0" dy="2.8">⟨</tspan><tspan dx="2.8" dy="-2.8" font-style="italic" font-weight="bold">I</tspan><tspan font-family="DejaVu Sans, sans-serif" font-size="28" dx="1.6" dy="2.8">⟩</tspan><tspan font-size="17.4" dx="0.5" dy="5.8">avgavg</tspan></text>
<text x="1426.0" y="24.4" font-size="31" text-anchor="start" fill="#000" font-weight="bold">d</text>
<text x="1586.8" y="31.5" font-size="27" text-anchor="middle" fill="#000">Emotion</text>
<line x1="1470.7" y1="125.5" x2="1470.7" y2="325.5" stroke="#707070" stroke-width="2.0"/>
<line x1="1469.7" y1="291.8" x2="1475.2" y2="291.8" stroke="#000" stroke-width="1.1"/>
<line x1="1469.7" y1="258.7" x2="1475.2" y2="258.7" stroke="#000" stroke-width="1.1"/>
<line x1="1469.7" y1="225.5" x2="1475.2" y2="225.5" stroke="#000" stroke-width="1.1"/>
<line x1="1469.7" y1="192.3" x2="1475.2" y2="192.3" stroke="#000" stroke-width="1.1"/>
<line x1="1469.7" y1="159.2" x2="1475.2" y2="159.2" stroke="#000" stroke-width="1.1"/>
<line x1="1469.7" y1="126.0" x2="1475.2" y2="126.0" stroke="#000" stroke-width="1.1"/>
<text x="1456.3" y="135.2" font-size="27" text-anchor="end" fill="#000">12</text>
<text x="1456.3" y="201.5" font-size="27" text-anchor="end" fill="#000">8</text>
<text x="1456.3" y="267.9" font-size="27" text-anchor="end" fill="#000">4</text>
<text x="1456.3" y="334.2" font-size="27" text-anchor="end" fill="#000">0</text>
<line x1="1469.7" y1="325.0" x2="1670.8" y2="325.0" stroke="#1a1a1a" stroke-width="1.15"/>
<line x1="1485.7" y1="325.0" x2="1485.7" y2="322.8" stroke="#000" stroke-width="0.9"/>
<line x1="1494.5" y1="325.0" x2="1494.5" y2="322.8" stroke="#000" stroke-width="0.9"/>
<line x1="1500.7" y1="325.0" x2="1500.7" y2="322.8" stroke="#000" stroke-width="0.9"/>
<line x1="1505.6" y1="325.0" x2="1505.6" y2="322.8" stroke="#000" stroke-width="0.9"/>
<line x1="1509.5" y1="325.0" x2="1509.5" y2="322.8" stroke="#000" stroke-width="0.9"/>
<line x1="1512.9" y1="325.0" x2="1512.9" y2="322.8" stroke="#000" stroke-width="0.9"/>
<line x1="1515.8" y1="325.0" x2="1515.8" y2="322.8" stroke="#000" stroke-width="0.9"/>
<line x1="1518.3" y1="325.0" x2="1518.3" y2="322.8" stroke="#000" stroke-width="0.9"/>
<line x1="1520.6" y1="325.0" x2="1520.6" y2="321.4" stroke="#000" stroke-width="1.0"/>
<line x1="1535.6" y1="325.0" x2="1535.6" y2="322.8" stroke="#000" stroke-width="0.9"/>
<line x1="1544.4" y1="325.0" x2="1544.4" y2="322.8" stroke="#000" stroke-width="0.9"/>
<line x1="1550.6" y1="325.0" x2="1550.6" y2="322.8" stroke="#000" stroke-width="0.9"/>
<line x1="1555.5" y1="325.0" x2="1555.5" y2="322.8" stroke="#000" stroke-width="0.9"/>
<line x1="1559.4" y1="325.0" x2="1559.4" y2="322.8" stroke="#000" stroke-width="0.9"/>
<line x1="1562.8" y1="325.0" x2="1562.8" y2="322.8" stroke="#000" stroke-width="0.9"/>
<line x1="1565.7" y1="325.0" x2="1565.7" y2="322.8" stroke="#000" stroke-width="0.9"/>
<line x1="1568.2" y1="325.0" x2="1568.2" y2="322.8" stroke="#000" stroke-width="0.9"/>
<line x1="1570.5" y1="325.0" x2="1570.5" y2="321.4" stroke="#000" stroke-width="1.0"/>
<line x1="1585.5" y1="325.0" x2="1585.5" y2="322.8" stroke="#000" stroke-width="0.9"/>
<line x1="1594.3" y1="325.0" x2="1594.3" y2="322.8" stroke="#000" stroke-width="0.9"/>
<line x1="1600.5" y1="325.0" x2="1600.5" y2="322.8" stroke="#000" stroke-width="0.9"/>
<line x1="1605.4" y1="325.0" x2="1605.4" y2="322.8" stroke="#000" stroke-width="0.9"/>
<line x1="1609.3" y1="325.0" x2="1609.3" y2="322.8" stroke="#000" stroke-width="0.9"/>
<line x1="1612.7" y1="325.0" x2="1612.7" y2="322.8" stroke="#000" stroke-width="0.9"/>
<line x1="1615.6" y1="325.0" x2="1615.6" y2="322.8" stroke="#000" stroke-width="0.9"/>
<line x1="1618.1" y1="325.0" x2="1618.1" y2="322.8" stroke="#000" stroke-width="0.9"/>
<line x1="1620.4" y1="325.0" x2="1620.4" y2="321.4" stroke="#000" stroke-width="1.0"/>
<line x1="1635.4" y1="325.0" x2="1635.4" y2="322.8" stroke="#000" stroke-width="0.9"/>
<line x1="1644.2" y1="325.0" x2="1644.2" y2="322.8" stroke="#000" stroke-width="0.9"/>
<line x1="1650.4" y1="325.0" x2="1650.4" y2="322.8" stroke="#000" stroke-width="0.9"/>
<line x1="1655.3" y1="325.0" x2="1655.3" y2="322.8" stroke="#000" stroke-width="0.9"/>
<line x1="1659.2" y1="325.0" x2="1659.2" y2="322.8" stroke="#000" stroke-width="0.9"/>
<line x1="1662.6" y1="325.0" x2="1662.6" y2="322.8" stroke="#000" stroke-width="0.9"/>
<line x1="1665.5" y1="325.0" x2="1665.5" y2="322.8" stroke="#000" stroke-width="0.9"/>
<line x1="1668.0" y1="325.0" x2="1668.0" y2="322.8" stroke="#000" stroke-width="0.9"/>
<line x1="1670.3" y1="325.0" x2="1670.3" y2="321.4" stroke="#000" stroke-width="1.0"/>
<text x="1486.7" y="367.7" font-size="27" text-anchor="middle" fill="#000">10<tspan font-size="17.8" dy="-12.2">−5</tspan></text>
<text x="1570.8" y="367.7" font-size="27" text-anchor="middle" fill="#000">10<tspan font-size="17.8" dy="-12.2">−3</tspan></text>
<text x="1669.5" y="367.7" font-size="27" text-anchor="middle" fill="#000">10<tspan font-size="17.8" dy="-12.2">−1</tspan></text>
<path d="M1470.7 325.0 L1505.6 308.4 L1520.6 308.4 L1555.5 275.2 L1570.5 275.2 L1605.4 242.1 L1620.4 242.1 L1655.3 142.6" fill="none" stroke="#be1e2d" stroke-width="4.2" stroke-linejoin="round"/>
<circle cx="1655.3" cy="142.6" r="8.9" fill="#be1e2d" stroke="#fff" stroke-width="1.4"/>
<circle cx="1620.4" cy="242.1" r="8.9" fill="#be1e2d" stroke="#fff" stroke-width="1.4"/>
<circle cx="1605.4" cy="242.1" r="8.9" fill="#be1e2d" stroke="#fff" stroke-width="1.4"/>
<circle cx="1570.5" cy="275.2" r="8.9" fill="#be1e2d" stroke="#fff" stroke-width="1.4"/>
<circle cx="1555.5" cy="275.2" r="8.9" fill="#be1e2d" stroke="#fff" stroke-width="1.4"/>
<circle cx="1520.6" cy="308.4" r="8.9" fill="#be1e2d" stroke="#fff" stroke-width="1.4"/>
<circle cx="1505.6" cy="308.4" r="8.9" fill="#be1e2d" stroke="#fff" stroke-width="1.4"/>
<circle cx="1470.7" cy="325.0" r="8.9" fill="#be1e2d" stroke="#fff" stroke-width="1.4"/>
<path d="M1470.7 325.0 L1505.6 308.4 L1520.6 308.4 L1555.5 275.2 L1570.5 275.2 L1605.4 225.5 L1620.4 208.9 L1655.3 142.6" fill="none" stroke="#662d91" stroke-width="4.2" stroke-linejoin="round"/>
<circle cx="1655.3" cy="142.6" r="8.9" fill="#662d91" stroke="#fff" stroke-width="1.4"/>
<circle cx="1620.4" cy="208.9" r="8.9" fill="#662d91" stroke="#fff" stroke-width="1.4"/>
<circle cx="1605.4" cy="225.5" r="8.9" fill="#662d91" stroke="#fff" stroke-width="1.4"/>
<circle cx="1570.5" cy="275.2" r="8.9" fill="#662d91" stroke="#fff" stroke-width="1.4"/>
<circle cx="1555.5" cy="275.2" r="8.9" fill="#662d91" stroke="#fff" stroke-width="1.4"/>
<circle cx="1520.6" cy="308.4" r="8.9" fill="#662d91" stroke="#fff" stroke-width="1.4"/>
<circle cx="1505.6" cy="308.4" r="8.9" fill="#662d91" stroke="#fff" stroke-width="1.4"/>
<circle cx="1470.7" cy="325.0" r="8.9" fill="#662d91" stroke="#fff" stroke-width="1.4"/>
<line x1="1470.7" y1="392.8" x2="1470.7" y2="594.5" stroke="#707070" stroke-width="2.0"/>
<line x1="1469.7" y1="393.4" x2="1475.2" y2="393.4" stroke="#000" stroke-width="1.1"/>
<line x1="1469.7" y1="413.5" x2="1475.2" y2="413.5" stroke="#000" stroke-width="1.1"/>
<line x1="1469.7" y1="433.5" x2="1475.2" y2="433.5" stroke="#000" stroke-width="1.1"/>
<line x1="1469.7" y1="453.6" x2="1475.2" y2="453.6" stroke="#000" stroke-width="1.1"/>
<line x1="1469.7" y1="473.6" x2="1475.2" y2="473.6" stroke="#000" stroke-width="1.1"/>
<line x1="1469.7" y1="493.7" x2="1475.2" y2="493.7" stroke="#000" stroke-width="1.1"/>
<line x1="1469.7" y1="513.8" x2="1475.2" y2="513.8" stroke="#000" stroke-width="1.1"/>
<line x1="1469.7" y1="533.8" x2="1475.2" y2="533.8" stroke="#000" stroke-width="1.1"/>
<line x1="1469.7" y1="553.9" x2="1475.2" y2="553.9" stroke="#000" stroke-width="1.1"/>
<line x1="1469.7" y1="573.9" x2="1475.2" y2="573.9" stroke="#000" stroke-width="1.1"/>
<text x="1456.9" y="403.6" font-size="27" text-anchor="end" fill="#000">0.30</text>
<text x="1456.9" y="504.2" font-size="27" text-anchor="end" fill="#000">0.25</text>
<text x="1456.9" y="604.2" font-size="27" text-anchor="end" fill="#000">0.20</text>
<line x1="1469.7" y1="594.0" x2="1671.9" y2="594.0" stroke="#1a1a1a" stroke-width="1.15"/>
<line x1="1485.8" y1="594.0" x2="1485.8" y2="591.8" stroke="#000" stroke-width="0.9"/>
<line x1="1494.6" y1="594.0" x2="1494.6" y2="591.8" stroke="#000" stroke-width="0.9"/>
<line x1="1500.9" y1="594.0" x2="1500.9" y2="591.8" stroke="#000" stroke-width="0.9"/>
<line x1="1505.8" y1="594.0" x2="1505.8" y2="591.8" stroke="#000" stroke-width="0.9"/>
<line x1="1509.7" y1="594.0" x2="1509.7" y2="591.8" stroke="#000" stroke-width="0.9"/>
<line x1="1513.1" y1="594.0" x2="1513.1" y2="591.8" stroke="#000" stroke-width="0.9"/>
<line x1="1516.0" y1="594.0" x2="1516.0" y2="591.8" stroke="#000" stroke-width="0.9"/>
<line x1="1518.6" y1="594.0" x2="1518.6" y2="591.8" stroke="#000" stroke-width="0.9"/>
<line x1="1520.9" y1="594.0" x2="1520.9" y2="590.4" stroke="#000" stroke-width="1.0"/>
<line x1="1536.0" y1="594.0" x2="1536.0" y2="591.8" stroke="#000" stroke-width="0.9"/>
<line x1="1544.8" y1="594.0" x2="1544.8" y2="591.8" stroke="#000" stroke-width="0.9"/>
<line x1="1551.1" y1="594.0" x2="1551.1" y2="591.8" stroke="#000" stroke-width="0.9"/>
<line x1="1555.9" y1="594.0" x2="1555.9" y2="591.8" stroke="#000" stroke-width="0.9"/>
<line x1="1559.9" y1="594.0" x2="1559.9" y2="591.8" stroke="#000" stroke-width="0.9"/>
<line x1="1563.3" y1="594.0" x2="1563.3" y2="591.8" stroke="#000" stroke-width="0.9"/>
<line x1="1566.2" y1="594.0" x2="1566.2" y2="591.8" stroke="#000" stroke-width="0.9"/>
<line x1="1568.8" y1="594.0" x2="1568.8" y2="591.8" stroke="#000" stroke-width="0.9"/>
<line x1="1571.1" y1="594.0" x2="1571.1" y2="590.4" stroke="#000" stroke-width="1.0"/>
<line x1="1586.2" y1="594.0" x2="1586.2" y2="591.8" stroke="#000" stroke-width="0.9"/>
<line x1="1595.0" y1="594.0" x2="1595.0" y2="591.8" stroke="#000" stroke-width="0.9"/>
<line x1="1601.3" y1="594.0" x2="1601.3" y2="591.8" stroke="#000" stroke-width="0.9"/>
<line x1="1606.1" y1="594.0" x2="1606.1" y2="591.8" stroke="#000" stroke-width="0.9"/>
<line x1="1610.1" y1="594.0" x2="1610.1" y2="591.8" stroke="#000" stroke-width="0.9"/>
<line x1="1613.5" y1="594.0" x2="1613.5" y2="591.8" stroke="#000" stroke-width="0.9"/>
<line x1="1616.4" y1="594.0" x2="1616.4" y2="591.8" stroke="#000" stroke-width="0.9"/>
<line x1="1618.9" y1="594.0" x2="1618.9" y2="591.8" stroke="#000" stroke-width="0.9"/>
<line x1="1621.2" y1="594.0" x2="1621.2" y2="590.4" stroke="#000" stroke-width="1.0"/>
<line x1="1636.3" y1="594.0" x2="1636.3" y2="591.8" stroke="#000" stroke-width="0.9"/>
<line x1="1645.2" y1="594.0" x2="1645.2" y2="591.8" stroke="#000" stroke-width="0.9"/>
<line x1="1651.4" y1="594.0" x2="1651.4" y2="591.8" stroke="#000" stroke-width="0.9"/>
<line x1="1656.3" y1="594.0" x2="1656.3" y2="591.8" stroke="#000" stroke-width="0.9"/>
<line x1="1660.3" y1="594.0" x2="1660.3" y2="591.8" stroke="#000" stroke-width="0.9"/>
<line x1="1663.6" y1="594.0" x2="1663.6" y2="591.8" stroke="#000" stroke-width="0.9"/>
<line x1="1666.5" y1="594.0" x2="1666.5" y2="591.8" stroke="#000" stroke-width="0.9"/>
<line x1="1669.1" y1="594.0" x2="1669.1" y2="591.8" stroke="#000" stroke-width="0.9"/>
<line x1="1671.4" y1="594.0" x2="1671.4" y2="590.4" stroke="#000" stroke-width="1.0"/>
<text x="1486.0" y="633.5" font-size="27" text-anchor="middle" fill="#000">10<tspan font-size="17.8" dy="-12.2">−5</tspan></text>
<text x="1570.8" y="633.5" font-size="27" text-anchor="middle" fill="#000">10<tspan font-size="17.8" dy="-12.2">−3</tspan></text>
<text x="1656.2" y="633.5" font-size="27" text-anchor="middle" fill="#000">10<tspan font-size="17.8" dy="-12.2">−1</tspan></text>
<path d="M1505.8 408.0 L1520.9 408.0 L1555.9 460.0 L1571.1 460.0 L1606.1 501.4 L1621.2 501.4 L1656.3 592.2" fill="none" stroke="#be1e2d" stroke-width="4.2" stroke-linejoin="round"/>
<circle cx="1656.3" cy="592.2" r="8.9" fill="#be1e2d" stroke="#fff" stroke-width="1.4"/>
<circle cx="1621.2" cy="501.4" r="8.9" fill="#be1e2d" stroke="#fff" stroke-width="1.4"/>
<circle cx="1606.1" cy="501.4" r="8.9" fill="#be1e2d" stroke="#fff" stroke-width="1.4"/>
<circle cx="1571.1" cy="460.0" r="8.9" fill="#be1e2d" stroke="#fff" stroke-width="1.4"/>
<circle cx="1555.9" cy="460.0" r="8.9" fill="#be1e2d" stroke="#fff" stroke-width="1.4"/>
<circle cx="1520.9" cy="408.0" r="8.9" fill="#be1e2d" stroke="#fff" stroke-width="1.4"/>
<circle cx="1505.8" cy="408.0" r="8.9" fill="#be1e2d" stroke="#fff" stroke-width="1.4"/>
<path d="M1505.8 401.4 L1520.9 401.4 L1555.9 468.0 L1571.1 468.0 L1606.1 512.4 L1621.2 526.3 L1656.3 581.5" fill="none" stroke="#662d91" stroke-width="4.2" stroke-linejoin="round"/>
<circle cx="1656.3" cy="581.5" r="8.9" fill="#662d91" stroke="#fff" stroke-width="1.4"/>
<circle cx="1621.2" cy="526.3" r="8.9" fill="#662d91" stroke="#fff" stroke-width="1.4"/>
<circle cx="1606.1" cy="512.4" r="8.9" fill="#662d91" stroke="#fff" stroke-width="1.4"/>
<circle cx="1571.1" cy="468.0" r="8.9" fill="#662d91" stroke="#fff" stroke-width="1.4"/>
<circle cx="1555.9" cy="468.0" r="8.9" fill="#662d91" stroke="#fff" stroke-width="1.4"/>
<circle cx="1520.9" cy="401.4" r="8.9" fill="#662d91" stroke="#fff" stroke-width="1.4"/>
<circle cx="1505.8" cy="401.4" r="8.9" fill="#662d91" stroke="#fff" stroke-width="1.4"/>
<text x="1568.0" y="676.4" font-size="27" text-anchor="middle" fill="#000"><tspan font-style="italic">P</tspan>-value threshold</text>
<text x="1759.0" y="24.4" font-size="31" text-anchor="start" fill="#000" font-weight="bold">e</text>
<text x="1905.8" y="31.5" font-size="27" text-anchor="middle" fill="#000">Personality</text>
<line x1="1806.5" y1="121.5" x2="1806.5" y2="320.7" stroke="#707070" stroke-width="2.0"/>
<line x1="1805.5" y1="270.6" x2="1811.0" y2="270.6" stroke="#000" stroke-width="1.1"/>
<line x1="1805.5" y1="221.1" x2="1811.0" y2="221.1" stroke="#000" stroke-width="1.1"/>
<line x1="1805.5" y1="171.6" x2="1811.0" y2="171.6" stroke="#000" stroke-width="1.1"/>
<line x1="1805.5" y1="122.0" x2="1811.0" y2="122.0" stroke="#000" stroke-width="1.1"/>
<text x="1790.5" y="131.6" font-size="27" text-anchor="end" fill="#000">18</text>
<text x="1790.5" y="181.2" font-size="27" text-anchor="end" fill="#000">14</text>
<text x="1790.5" y="230.7" font-size="27" text-anchor="end" fill="#000">10</text>
<text x="1790.5" y="280.2" font-size="27" text-anchor="end" fill="#000">6</text>
<text x="1790.5" y="329.8" font-size="27" text-anchor="end" fill="#000">2</text>
<line x1="1805.5" y1="320.2" x2="2006.9" y2="320.2" stroke="#1a1a1a" stroke-width="1.15"/>
<line x1="1821.5" y1="320.2" x2="1821.5" y2="318.0" stroke="#000" stroke-width="0.9"/>
<line x1="1830.3" y1="320.2" x2="1830.3" y2="318.0" stroke="#000" stroke-width="0.9"/>
<line x1="1836.6" y1="320.2" x2="1836.6" y2="318.0" stroke="#000" stroke-width="0.9"/>
<line x1="1841.4" y1="320.2" x2="1841.4" y2="318.0" stroke="#000" stroke-width="0.9"/>
<line x1="1845.4" y1="320.2" x2="1845.4" y2="318.0" stroke="#000" stroke-width="0.9"/>
<line x1="1848.7" y1="320.2" x2="1848.7" y2="318.0" stroke="#000" stroke-width="0.9"/>
<line x1="1851.6" y1="320.2" x2="1851.6" y2="318.0" stroke="#000" stroke-width="0.9"/>
<line x1="1854.2" y1="320.2" x2="1854.2" y2="318.0" stroke="#000" stroke-width="0.9"/>
<line x1="1856.5" y1="320.2" x2="1856.5" y2="316.6" stroke="#000" stroke-width="1.0"/>
<line x1="1871.5" y1="320.2" x2="1871.5" y2="318.0" stroke="#000" stroke-width="0.9"/>
<line x1="1880.3" y1="320.2" x2="1880.3" y2="318.0" stroke="#000" stroke-width="0.9"/>
<line x1="1886.6" y1="320.2" x2="1886.6" y2="318.0" stroke="#000" stroke-width="0.9"/>
<line x1="1891.4" y1="320.2" x2="1891.4" y2="318.0" stroke="#000" stroke-width="0.9"/>
<line x1="1895.4" y1="320.2" x2="1895.4" y2="318.0" stroke="#000" stroke-width="0.9"/>
<line x1="1898.7" y1="320.2" x2="1898.7" y2="318.0" stroke="#000" stroke-width="0.9"/>
<line x1="1901.6" y1="320.2" x2="1901.6" y2="318.0" stroke="#000" stroke-width="0.9"/>
<line x1="1904.2" y1="320.2" x2="1904.2" y2="318.0" stroke="#000" stroke-width="0.9"/>
<line x1="1906.5" y1="320.2" x2="1906.5" y2="316.6" stroke="#000" stroke-width="1.0"/>
<line x1="1921.5" y1="320.2" x2="1921.5" y2="318.0" stroke="#000" stroke-width="0.9"/>
<line x1="1930.3" y1="320.2" x2="1930.3" y2="318.0" stroke="#000" stroke-width="0.9"/>
<line x1="1936.5" y1="320.2" x2="1936.5" y2="318.0" stroke="#000" stroke-width="0.9"/>
<line x1="1941.4" y1="320.2" x2="1941.4" y2="318.0" stroke="#000" stroke-width="0.9"/>
<line x1="1945.3" y1="320.2" x2="1945.3" y2="318.0" stroke="#000" stroke-width="0.9"/>
<line x1="1948.7" y1="320.2" x2="1948.7" y2="318.0" stroke="#000" stroke-width="0.9"/>
<line x1="1951.6" y1="320.2" x2="1951.6" y2="318.0" stroke="#000" stroke-width="0.9"/>
<line x1="1954.1" y1="320.2" x2="1954.1" y2="318.0" stroke="#000" stroke-width="0.9"/>
<line x1="1956.4" y1="320.2" x2="1956.4" y2="316.6" stroke="#000" stroke-width="1.0"/>
<line x1="1971.5" y1="320.2" x2="1971.5" y2="318.0" stroke="#000" stroke-width="0.9"/>
<line x1="1980.3" y1="320.2" x2="1980.3" y2="318.0" stroke="#000" stroke-width="0.9"/>
<line x1="1986.5" y1="320.2" x2="1986.5" y2="318.0" stroke="#000" stroke-width="0.9"/>
<line x1="1991.4" y1="320.2" x2="1991.4" y2="318.0" stroke="#000" stroke-width="0.9"/>
<line x1="1995.3" y1="320.2" x2="1995.3" y2="318.0" stroke="#000" stroke-width="0.9"/>
<line x1="1998.7" y1="320.2" x2="1998.7" y2="318.0" stroke="#000" stroke-width="0.9"/>
<line x1="2001.6" y1="320.2" x2="2001.6" y2="318.0" stroke="#000" stroke-width="0.9"/>
<line x1="2004.1" y1="320.2" x2="2004.1" y2="318.0" stroke="#000" stroke-width="0.9"/>
<line x1="2006.4" y1="320.2" x2="2006.4" y2="316.6" stroke="#000" stroke-width="1.0"/>
<text x="1821.7" y="367.7" font-size="27" text-anchor="middle" fill="#000">10<tspan font-size="17.8" dy="-12.2">−5</tspan></text>
<text x="1906.6" y="367.7" font-size="27" text-anchor="middle" fill="#000">10<tspan font-size="17.8" dy="-12.2">−3</tspan></text>
<text x="2005.3" y="367.7" font-size="27" text-anchor="middle" fill="#000">10<tspan font-size="17.8" dy="-12.2">−1</tspan></text>
<path d="M1806.5 320.2 L1841.4 295.4 L1856.5 283.0 L1891.4 258.3 L1906.5 221.1 L1941.4 183.9 L1956.4 183.9 L1991.4 134.4" fill="none" stroke="#be1e2d" stroke-width="4.2" stroke-linejoin="round"/>
<circle cx="1991.4" cy="134.4" r="8.9" fill="#be1e2d" stroke="#fff" stroke-width="1.4"/>
<circle cx="1956.4" cy="183.9" r="8.9" fill="#be1e2d" stroke="#fff" stroke-width="1.4"/>
<circle cx="1941.4" cy="183.9" r="8.9" fill="#be1e2d" stroke="#fff" stroke-width="1.4"/>
<circle cx="1906.5" cy="221.1" r="8.9" fill="#be1e2d" stroke="#fff" stroke-width="1.4"/>
<circle cx="1891.4" cy="258.3" r="8.9" fill="#be1e2d" stroke="#fff" stroke-width="1.4"/>
<circle cx="1856.5" cy="283.0" r="8.9" fill="#be1e2d" stroke="#fff" stroke-width="1.4"/>
<circle cx="1841.4" cy="295.4" r="8.9" fill="#be1e2d" stroke="#fff" stroke-width="1.4"/>
<circle cx="1806.5" cy="320.2" r="8.9" fill="#be1e2d" stroke="#fff" stroke-width="1.4"/>
<path d="M1806.5 283.0 L1841.4 283.0 L1856.5 283.0 L1891.4 270.6 L1906.5 270.6 L1941.4 258.3 L1956.4 233.5 L1991.4 171.6" fill="none" stroke="#662d91" stroke-width="4.2" stroke-linejoin="round"/>
<circle cx="1991.4" cy="171.6" r="8.9" fill="#662d91" stroke="#fff" stroke-width="1.4"/>
<circle cx="1956.4" cy="233.5" r="8.9" fill="#662d91" stroke="#fff" stroke-width="1.4"/>
<circle cx="1941.4" cy="258.3" r="8.9" fill="#662d91" stroke="#fff" stroke-width="1.4"/>
<circle cx="1906.5" cy="270.6" r="8.9" fill="#662d91" stroke="#fff" stroke-width="1.4"/>
<circle cx="1891.4" cy="270.6" r="8.9" fill="#662d91" stroke="#fff" stroke-width="1.4"/>
<circle cx="1856.5" cy="283.0" r="8.9" fill="#662d91" stroke="#fff" stroke-width="1.4"/>
<circle cx="1841.4" cy="283.0" r="8.9" fill="#662d91" stroke="#fff" stroke-width="1.4"/>
<circle cx="1806.5" cy="283.0" r="8.9" fill="#662d91" stroke="#fff" stroke-width="1.4"/>
<line x1="1811.0" y1="396.8" x2="1811.0" y2="592.7" stroke="#707070" stroke-width="2.0"/>
<line x1="1810.0" y1="397.4" x2="1815.5" y2="397.4" stroke="#000" stroke-width="1.1"/>
<line x1="1810.0" y1="448.3" x2="1815.5" y2="448.3" stroke="#000" stroke-width="1.1"/>
<line x1="1810.0" y1="506.0" x2="1815.5" y2="506.0" stroke="#000" stroke-width="1.1"/>
<line x1="1810.0" y1="563.6" x2="1815.5" y2="563.6" stroke="#000" stroke-width="1.1"/>
<text x="1790.0" y="407.8" font-size="27" text-anchor="end" fill="#000">0.38</text>
<text x="1790.0" y="458.7" font-size="27" text-anchor="end" fill="#000">0.34</text>
<text x="1790.0" y="516.4" font-size="27" text-anchor="end" fill="#000">0.30</text>
<text x="1790.0" y="574.0" font-size="27" text-anchor="end" fill="#000">0.26</text>
<line x1="1810.0" y1="592.2" x2="2010.9" y2="592.2" stroke="#1a1a1a" stroke-width="1.15"/>
<line x1="1826.0" y1="592.2" x2="1826.0" y2="590.0" stroke="#000" stroke-width="0.9"/>
<line x1="1834.8" y1="592.2" x2="1834.8" y2="590.0" stroke="#000" stroke-width="0.9"/>
<line x1="1841.0" y1="592.2" x2="1841.0" y2="590.0" stroke="#000" stroke-width="0.9"/>
<line x1="1845.8" y1="592.2" x2="1845.8" y2="590.0" stroke="#000" stroke-width="0.9"/>
<line x1="1849.8" y1="592.2" x2="1849.8" y2="590.0" stroke="#000" stroke-width="0.9"/>
<line x1="1853.1" y1="592.2" x2="1853.1" y2="590.0" stroke="#000" stroke-width="0.9"/>
<line x1="1856.0" y1="592.2" x2="1856.0" y2="590.0" stroke="#000" stroke-width="0.9"/>
<line x1="1858.6" y1="592.2" x2="1858.6" y2="590.0" stroke="#000" stroke-width="0.9"/>
<line x1="1860.8" y1="592.2" x2="1860.8" y2="588.6" stroke="#000" stroke-width="1.0"/>
<line x1="1875.9" y1="592.2" x2="1875.9" y2="590.0" stroke="#000" stroke-width="0.9"/>
<line x1="1884.6" y1="592.2" x2="1884.6" y2="590.0" stroke="#000" stroke-width="0.9"/>
<line x1="1890.9" y1="592.2" x2="1890.9" y2="590.0" stroke="#000" stroke-width="0.9"/>
<line x1="1895.7" y1="592.2" x2="1895.7" y2="590.0" stroke="#000" stroke-width="0.9"/>
<line x1="1899.6" y1="592.2" x2="1899.6" y2="590.0" stroke="#000" stroke-width="0.9"/>
<line x1="1903.0" y1="592.2" x2="1903.0" y2="590.0" stroke="#000" stroke-width="0.9"/>
<line x1="1905.9" y1="592.2" x2="1905.9" y2="590.0" stroke="#000" stroke-width="0.9"/>
<line x1="1908.4" y1="592.2" x2="1908.4" y2="590.0" stroke="#000" stroke-width="0.9"/>
<line x1="1910.7" y1="592.2" x2="1910.7" y2="588.6" stroke="#000" stroke-width="1.0"/>
<line x1="1925.7" y1="592.2" x2="1925.7" y2="590.0" stroke="#000" stroke-width="0.9"/>
<line x1="1934.5" y1="592.2" x2="1934.5" y2="590.0" stroke="#000" stroke-width="0.9"/>
<line x1="1940.7" y1="592.2" x2="1940.7" y2="590.0" stroke="#000" stroke-width="0.9"/>
<line x1="1945.5" y1="592.2" x2="1945.5" y2="590.0" stroke="#000" stroke-width="0.9"/>
<line x1="1949.5" y1="592.2" x2="1949.5" y2="590.0" stroke="#000" stroke-width="0.9"/>
<line x1="1952.8" y1="592.2" x2="1952.8" y2="590.0" stroke="#000" stroke-width="0.9"/>
<line x1="1955.7" y1="592.2" x2="1955.7" y2="590.0" stroke="#000" stroke-width="0.9"/>
<line x1="1958.3" y1="592.2" x2="1958.3" y2="590.0" stroke="#000" stroke-width="0.9"/>
<line x1="1960.6" y1="592.2" x2="1960.6" y2="588.6" stroke="#000" stroke-width="1.0"/>
<line x1="1975.6" y1="592.2" x2="1975.6" y2="590.0" stroke="#000" stroke-width="0.9"/>
<line x1="1984.3" y1="592.2" x2="1984.3" y2="590.0" stroke="#000" stroke-width="0.9"/>
<line x1="1990.6" y1="592.2" x2="1990.6" y2="590.0" stroke="#000" stroke-width="0.9"/>
<line x1="1995.4" y1="592.2" x2="1995.4" y2="590.0" stroke="#000" stroke-width="0.9"/>
<line x1="1999.3" y1="592.2" x2="1999.3" y2="590.0" stroke="#000" stroke-width="0.9"/>
<line x1="2002.7" y1="592.2" x2="2002.7" y2="590.0" stroke="#000" stroke-width="0.9"/>
<line x1="2005.6" y1="592.2" x2="2005.6" y2="590.0" stroke="#000" stroke-width="0.9"/>
<line x1="2008.1" y1="592.2" x2="2008.1" y2="590.0" stroke="#000" stroke-width="0.9"/>
<line x1="2010.4" y1="592.2" x2="2010.4" y2="588.6" stroke="#000" stroke-width="1.0"/>
<text x="1826.3" y="633.5" font-size="27" text-anchor="middle" fill="#000">10<tspan font-size="17.8" dy="-12.2">−5</tspan></text>
<text x="1911.0" y="633.5" font-size="27" text-anchor="middle" fill="#000">10<tspan font-size="17.8" dy="-12.2">−3</tspan></text>
<text x="1996.5" y="633.5" font-size="27" text-anchor="middle" fill="#000">10<tspan font-size="17.8" dy="-12.2">−1</tspan></text>
<path d="M1811.0 397.4 L1845.8 458.2 L1860.8 474.8 L1895.7 499.3 L1910.7 529.5 L1945.5 553.0 L1960.6 553.0 L1995.4 590.0" fill="none" stroke="#be1e2d" stroke-width="4.2" stroke-linejoin="round"/>
<circle cx="1995.4" cy="590.0" r="8.9" fill="#be1e2d" stroke="#fff" stroke-width="1.4"/>
<circle cx="1960.6" cy="553.0" r="8.9" fill="#be1e2d" stroke="#fff" stroke-width="1.4"/>
<circle cx="1945.5" cy="553.0" r="8.9" fill="#be1e2d" stroke="#fff" stroke-width="1.4"/>
<circle cx="1910.7" cy="529.5" r="8.9" fill="#be1e2d" stroke="#fff" stroke-width="1.4"/>
<circle cx="1895.7" cy="499.3" r="8.9" fill="#be1e2d" stroke="#fff" stroke-width="1.4"/>
<circle cx="1860.8" cy="474.8" r="8.9" fill="#be1e2d" stroke="#fff" stroke-width="1.4"/>
<circle cx="1845.8" cy="458.2" r="8.9" fill="#be1e2d" stroke="#fff" stroke-width="1.4"/>
<circle cx="1811.0" cy="397.4" r="8.9" fill="#be1e2d" stroke="#fff" stroke-width="1.4"/>
<path d="M1811.0 397.4 L1845.8 397.4 L1860.8 397.4 L1895.7 423.5 L1910.7 423.5 L1945.5 454.0 L1960.6 501.0 L1995.4 573.0" fill="none" stroke="#662d91" stroke-width="4.2" stroke-linejoin="round"/>
<circle cx="1995.4" cy="573.0" r="8.9" fill="#662d91" stroke="#fff" stroke-width="1.4"/>
<circle cx="1960.6" cy="501.0" r="8.9" fill="#662d91" stroke="#fff" stroke-width="1.4"/>
<circle cx="1945.5" cy="454.0" r="8.9" fill="#662d91" stroke="#fff" stroke-width="1.4"/>
<circle cx="1910.7" cy="423.5" r="8.9" fill="#662d91" stroke="#fff" stroke-width="1.4"/>
<circle cx="1895.7" cy="423.5" r="8.9" fill="#662d91" stroke="#fff" stroke-width="1.4"/>
<circle cx="1860.8" cy="397.4" r="8.9" fill="#662d91" stroke="#fff" stroke-width="1.4"/>
<circle cx="1845.8" cy="397.4" r="8.9" fill="#662d91" stroke="#fff" stroke-width="1.4"/>
<circle cx="1811.0" cy="397.4" r="8.9" fill="#662d91" stroke="#fff" stroke-width="1.4"/>
<text x="1908.2" y="676.4" font-size="27" text-anchor="middle" fill="#000"><tspan font-style="italic">P</tspan>-value threshold</text>
<text x="1072.5" y="727.4" font-size="31" text-anchor="start" fill="#000" font-weight="bold">f</text>
<text x="1072.5" y="759.9" font-size="18.66" text-anchor="start" fill="#002469">PMAT24_A_CR</text>
<text x="1188.6" y="773.6" font-size="22.87" text-anchor="start" fill="#002469">Flanker</text>
<text x="1135.9" y="798.0" font-size="24.19" text-anchor="start" fill="#002469">SCPT_SEN</text>
<text x="1263.2" y="799.7" font-size="20.47" text-anchor="start" fill="#002469">IWRD_TOT</text>
<text x="1111.3" y="840.9" font-size="44.89" text-anchor="start" fill="#002469">PicVocab</text>
<text x="1176.8" y="846.9" font-size="5.1" text-anchor="start" fill="#002469">SCPT_SPEC</text>
<text x="1301.1" y="854.0" font-size="15.87" text-anchor="start" fill="#002469">CardSort</text>
<text x="1106.4" y="881.6" font-size="50.31" text-anchor="start" fill="#002469">ReadEng</text>
<text x="1257.2" y="899.6" font-size="8.84" text-anchor="start" fill="#002469">PicSeq</text>
<text x="1095.0" y="921.9" font-size="33.6" text-anchor="start" fill="#002469">DDisc_AUC_40K</text>
<text x="1101.2" y="946.0" font-size="20.7" text-anchor="start" fill="#002469">ListSort</text>
<text x="1181.6" y="955.8" font-size="22.73" text-anchor="start" fill="#002469">VSPLOT_TC</text>
<text x="1146.8" y="981.5" font-size="22.31" text-anchor="start" fill="#002469">ProcSpeed</text>
<text x="1474.8" y="757.7" font-size="20.96" text-anchor="start" fill="#a0086b">Loneliness</text>
<text x="1587.4" y="760.7" font-size="21.51" text-anchor="start" fill="#a0086b">ER40_CR</text>
<text x="1472.9" y="790.7" font-size="27.86" text-anchor="start" fill="#a0086b">FearSomat</text>
<text x="1611.4" y="789.6" font-size="21.04" text-anchor="start" fill="#a0086b">PercReject</text>
<text x="1400.6" y="810.0" font-size="18.17" text-anchor="start" fill="#a0086b">AngHostil</text>
<text x="1493.0" y="813.9" font-size="28.4" text-anchor="start" fill="#a0086b">LifeSatisf</text>
<text x="1625.5" y="822.3" font-size="23.3" text-anchor="start" fill="#a0086b">AngAggr</text>
<text x="1478.3" y="840.4" font-size="30.99" text-anchor="start" fill="#a0086b">MeanPurp</text>
<text x="1417.4" y="844.6" font-size="13.17" text-anchor="start" fill="#a0086b">PosAffect</text>
<text x="1622.9" y="847.9" font-size="21.38" text-anchor="start" fill="#a0086b">PercHostil</text>
<text x="1527.9" y="852.5" font-size="5.46" text-anchor="start" fill="#a0086b">FearAffect</text>
<text x="1404.6" y="876.8" font-size="16.3" text-anchor="start" fill="#a0086b">Sadness</text>
<text x="1472.1" y="876.5" font-size="35.22" text-anchor="start" fill="#a0086b">InstruSupp</text>
<text x="1637.7" y="889.4" font-size="13.27" text-anchor="start" fill="#a0086b">ER40HAP</text>
<text x="1587.2" y="888.0" font-size="3.63" text-anchor="start" fill="#a0086b">ER40FEAR</text>
<text x="1401.7" y="897.2" font-size="18.75" text-anchor="start" fill="#a0086b">ER40NOE</text>
<text x="1492.4" y="910.6" font-size="31.12" text-anchor="start" fill="#a0086b">Friendship</text>
<text x="1458.5" y="918.5" font-size="9.17" text-anchor="start" fill="#a0086b">PercStress</text>
<text x="1450.6" y="937.9" font-size="24.85" text-anchor="start" fill="#a0086b">SelfEff</text>
<text x="1527.7" y="938.9" font-size="29.71" text-anchor="start" fill="#a0086b">EmotSupp</text>
<text x="1501.5" y="963.3" font-size="26.25" text-anchor="start" fill="#a0086b">ER40ANG</text>
<text x="1619.3" y="963.3" font-size="22.39" text-anchor="start" fill="#a0086b">ER40SAD</text>
<text x="1507.1" y="983.7" font-size="22.58" text-anchor="start" fill="#a0086b">AngAffect</text>
<text x="1883.1" y="750.1" font-size="19.0" text-anchor="start" fill="#228b22">RT_Rel_Acc</text>
<text x="1850.9" y="784.1" font-size="29.83" text-anchor="start" fill="#228b22">LT_Story</text>
<text x="1970.0" y="783.4" font-size="20.42" text-anchor="start" fill="#228b22">NEOFAC_E</text>
<text x="2010.6" y="803.5" font-size="16.47" text-anchor="start" fill="#228b22">NEOFAC_O</text>
<text x="1797.7" y="820.6" font-size="34.37" text-anchor="start" fill="#228b22">ST_Perc_TOM</text>
<text x="1872.2" y="833.4" font-size="8.07" text-anchor="start" fill="#228b22">NEOFAC_A</text>
<text x="1915.3" y="836.5" font-size="4.02" text-anchor="start" fill="#228b22">PainInterf</text>
<text x="1935.8" y="838.1" font-size="9.32" text-anchor="start" fill="#228b22">LT_Math</text>
<text x="1749.1" y="845.4" font-size="18.62" text-anchor="start" fill="#228b22">NEOFAC_C</text>
<text x="1893.0" y="845.9" font-size="9.46" text-anchor="start" fill="#228b22">Taste</text>
<text x="1996.3" y="848.3" font-size="15.71" text-anchor="start" fill="#228b22">Mars_Final</text>
<text x="1789.9" y="867.0" font-size="7.48" text-anchor="start" fill="#228b22">NEOFAC_N</text>
<text x="1792.3" y="882.3" font-size="9.13" text-anchor="start" fill="#228b22">ET_Face_Acc</text>
<text x="1871.8" y="880.9" font-size="7.99" text-anchor="start" fill="#228b22">PSQI</text>
<text x="1895.1" y="880.9" font-size="8.72" text-anchor="start" fill="#228b22">MMSE</text>
<text x="1927.4" y="881.5" font-size="7.82" text-anchor="start" fill="#228b22">Odor</text>
<text x="1836.9" y="871.1" font-size="42.07" text-anchor="start" fill="#228b22">Strength</text>
<text x="2005.3" y="886.7" font-size="16.84" text-anchor="start" fill="#228b22">Dexterity</text>
<text x="1749.9" y="900.7" font-size="15.23" text-anchor="start" fill="#228b22">T_Perc_Rand</text>
<text x="1842.0" y="909.4" font-size="35.94" text-anchor="start" fill="#228b22">GaitSpeed</text>
<text x="1845.2" y="919.2" font-size="8.79" text-anchor="start" fill="#228b22">ET_Match_Acc</text>
<text x="1851.5" y="946.7" font-size="32.75" text-anchor="start" fill="#228b22">RT_Match_Acc</text>
<text x="1868.9" y="973.2" font-size="25.8" text-anchor="start" fill="#228b22">Endurance</text>
<text x="1908.5" y="990.9" font-size="17.4" text-anchor="start" fill="#228b22">WM_Task_Acc</text>
<text x="578.0" y="996.0" font-size="31" text-anchor="start" fill="#000" font-weight="bold">g</text>
<line x1="711.2" y1="1043.0" x2="711.2" y2="1237.3" stroke="#231f20" stroke-width="1.2"/>
<line x1="711.2" y1="1236.6" x2="2119.0" y2="1236.6" stroke="#231f20" stroke-width="1.2"/>
<line x1="711.2" y1="1043.7" x2="722.7" y2="1043.7" stroke="#231f20" stroke-width="1.2"/>
<text x="697.5" y="1052.9" font-size="26" text-anchor="end" fill="#000">0.9</text>
<line x1="711.2" y1="1120.3" x2="722.7" y2="1120.3" stroke="#231f20" stroke-width="1.2"/>
<text x="697.5" y="1129.5" font-size="26" text-anchor="end" fill="#000">0.7</text>
<line x1="711.2" y1="1197.9" x2="722.7" y2="1197.9" stroke="#231f20" stroke-width="1.2"/>
<text x="697.5" y="1207.1" font-size="26" text-anchor="end" fill="#000">0.5</text>
<text x="609.0" y="1139.2" font-size="27" text-anchor="middle" fill="#000" transform="rotate(-90 609.0 1139.2)">Prop. ReAl-LiFE</text>
<text x="640.0" y="1139.2" font-size="27" text-anchor="middle" fill="#000" transform="rotate(-90 640.0 1139.2)">features chosen</text>
<rect x="728.90" y="1144.10" width="17.50" height="92.60" fill="#fff" stroke="#2e3192" stroke-width="3.6"/>
<text x="744.9" y="1249.6" font-size="23.1" text-anchor="end" fill="#000" transform="rotate(-90 744.9 1249.6)">DDisc_AUC_40K</text>
<rect x="751.11" y="1155.90" width="17.50" height="80.80" fill="#fff" stroke="#2e3192" stroke-width="3.6"/>
<text x="767.1" y="1249.6" font-size="23.1" text-anchor="end" fill="#000" transform="rotate(-90 767.1 1249.6)">SCPT_SPEC</text>
<rect x="773.32" y="1158.30" width="17.50" height="78.40" fill="#fff" stroke="#2e3192" stroke-width="3.6"/>
<text x="789.3" y="1249.6" font-size="23.1" text-anchor="end" fill="#000" transform="rotate(-90 789.3 1249.6)">PicSeq</text>
<rect x="795.53" y="1166.40" width="17.50" height="70.30" fill="#fff" stroke="#2e3192" stroke-width="3.6"/>
<text x="811.5" y="1249.6" font-size="23.1" text-anchor="end" fill="#000" transform="rotate(-90 811.5 1249.6)">SCPT_SEN</text>
<rect x="817.74" y="1169.70" width="17.50" height="67.00" fill="#fff" stroke="#2e3192" stroke-width="3.6"/>
<text x="833.7" y="1249.6" font-size="23.1" text-anchor="end" fill="#000" transform="rotate(-90 833.7 1249.6)">VSPLOT_TC</text>
<rect x="839.95" y="1177.20" width="17.50" height="59.50" fill="#fff" stroke="#2e3192" stroke-width="3.6"/>
<text x="856.0" y="1249.6" font-size="23.1" text-anchor="end" fill="#000" transform="rotate(-90 856.0 1249.6)">Flanker</text>
<rect x="862.16" y="1178.20" width="17.50" height="58.50" fill="#fff" stroke="#2e3192" stroke-width="3.6"/>
<text x="878.2" y="1249.6" font-size="23.1" text-anchor="end" fill="#000" transform="rotate(-90 878.2 1249.6)">IWRD_TOT</text>
<rect x="884.37" y="1178.20" width="17.50" height="58.50" fill="#fff" stroke="#2e3192" stroke-width="3.6"/>
<text x="900.4" y="1249.6" font-size="23.1" text-anchor="end" fill="#000" transform="rotate(-90 900.4 1249.6)">ReadEng</text>
<rect x="906.58" y="1187.60" width="17.50" height="49.10" fill="#fff" stroke="#2e3192" stroke-width="3.6"/>
<text x="922.6" y="1249.6" font-size="23.1" text-anchor="end" fill="#000" transform="rotate(-90 922.6 1249.6)">CardSort</text>
<rect x="928.79" y="1187.60" width="17.50" height="49.10" fill="#fff" stroke="#2e3192" stroke-width="3.6"/>
<text x="944.8" y="1249.6" font-size="23.1" text-anchor="end" fill="#000" transform="rotate(-90 944.8 1249.6)">ListSort</text>
<rect x="951.00" y="1192.80" width="17.50" height="43.90" fill="#fff" stroke="#2e3192" stroke-width="3.6"/>
<text x="967.0" y="1249.6" font-size="23.1" text-anchor="end" fill="#000" transform="rotate(-90 967.0 1249.6)">PicVocab</text>
<rect x="973.21" y="1195.40" width="17.50" height="41.30" fill="#fff" stroke="#2e3192" stroke-width="3.6"/>
<text x="989.2" y="1249.6" font-size="23.1" text-anchor="end" fill="#000" transform="rotate(-90 989.2 1249.6)">PMAT24_A_CR</text>
<rect x="995.42" y="1198.00" width="17.50" height="38.70" fill="#fff" stroke="#2e3192" stroke-width="3.6"/>
<text x="1011.4" y="1249.6" font-size="23.1" text-anchor="end" fill="#000" transform="rotate(-90 1011.4 1249.6)">ProcSpeed</text>
<rect x="1040.00" y="1069.30" width="17.50" height="167.40" fill="#fff" stroke="#a9046f" stroke-width="3.6"/>
<text x="1056.0" y="1249.6" font-size="23.1" text-anchor="end" fill="#000" transform="rotate(-90 1056.0 1249.6)">Loneliness</text>
<rect x="1062.21" y="1171.20" width="17.50" height="65.50" fill="#fff" stroke="#a9046f" stroke-width="3.6"/>
<text x="1078.2" y="1249.6" font-size="23.1" text-anchor="end" fill="#000" transform="rotate(-90 1078.2 1249.6)">InstruSupp</text>
<rect x="1084.42" y="1171.80" width="17.50" height="64.90" fill="#fff" stroke="#a9046f" stroke-width="3.6"/>
<text x="1100.4" y="1249.6" font-size="23.1" text-anchor="end" fill="#000" transform="rotate(-90 1100.4 1249.6)">ER40FEAR</text>
<rect x="1106.63" y="1172.30" width="17.50" height="64.40" fill="#fff" stroke="#a9046f" stroke-width="3.6"/>
<text x="1122.6" y="1249.6" font-size="23.1" text-anchor="end" fill="#000" transform="rotate(-90 1122.6 1249.6)">LifeSatisf</text>
<rect x="1128.84" y="1176.90" width="17.50" height="59.80" fill="#fff" stroke="#a9046f" stroke-width="3.6"/>
<text x="1144.8" y="1249.6" font-size="23.1" text-anchor="end" fill="#000" transform="rotate(-90 1144.8 1249.6)">PercReject</text>
<rect x="1151.05" y="1177.70" width="17.50" height="59.00" fill="#fff" stroke="#a9046f" stroke-width="3.6"/>
<text x="1167.0" y="1249.6" font-size="23.1" text-anchor="end" fill="#000" transform="rotate(-90 1167.0 1249.6)">ER40HAP</text>
<rect x="1173.26" y="1179.60" width="17.50" height="57.10" fill="#fff" stroke="#a9046f" stroke-width="3.6"/>
<text x="1189.3" y="1249.6" font-size="23.1" text-anchor="end" fill="#000" transform="rotate(-90 1189.3 1249.6)">Sadness</text>
<rect x="1195.47" y="1179.80" width="17.50" height="56.90" fill="#fff" stroke="#a9046f" stroke-width="3.6"/>
<text x="1211.5" y="1249.6" font-size="23.1" text-anchor="end" fill="#000" transform="rotate(-90 1211.5 1249.6)">ER40SAD</text>
<rect x="1217.68" y="1180.40" width="17.50" height="56.30" fill="#fff" stroke="#a9046f" stroke-width="3.6"/>
<text x="1233.7" y="1249.6" font-size="23.1" text-anchor="end" fill="#000" transform="rotate(-90 1233.7 1249.6)">ER40NOE</text>
<rect x="1239.89" y="1181.70" width="17.50" height="55.00" fill="#fff" stroke="#a9046f" stroke-width="3.6"/>
<text x="1255.9" y="1249.6" font-size="23.1" text-anchor="end" fill="#000" transform="rotate(-90 1255.9 1249.6)">PercHostil</text>
<rect x="1262.10" y="1182.30" width="17.50" height="54.40" fill="#fff" stroke="#a9046f" stroke-width="3.6"/>
<text x="1278.1" y="1249.6" font-size="23.1" text-anchor="end" fill="#000" transform="rotate(-90 1278.1 1249.6)">FearAffect</text>
<rect x="1284.31" y="1184.40" width="17.50" height="52.30" fill="#fff" stroke="#a9046f" stroke-width="3.6"/>
<text x="1300.3" y="1249.6" font-size="23.1" text-anchor="end" fill="#000" transform="rotate(-90 1300.3 1249.6)">ER40ANG</text>
<rect x="1306.52" y="1187.70" width="17.50" height="49.00" fill="#fff" stroke="#a9046f" stroke-width="3.6"/>
<text x="1322.5" y="1249.6" font-size="23.1" text-anchor="end" fill="#000" transform="rotate(-90 1322.5 1249.6)">AngAffect</text>
<rect x="1328.73" y="1189.50" width="17.50" height="47.20" fill="#fff" stroke="#a9046f" stroke-width="3.6"/>
<text x="1344.7" y="1249.6" font-size="23.1" text-anchor="end" fill="#000" transform="rotate(-90 1344.7 1249.6)">ER40_CR</text>
<rect x="1350.94" y="1189.50" width="17.50" height="47.20" fill="#fff" stroke="#a9046f" stroke-width="3.6"/>
<text x="1366.9" y="1249.6" font-size="23.1" text-anchor="end" fill="#000" transform="rotate(-90 1366.9 1249.6)">Friendship</text>
<rect x="1373.15" y="1190.10" width="17.50" height="46.60" fill="#fff" stroke="#a9046f" stroke-width="3.6"/>
<text x="1389.2" y="1249.6" font-size="23.1" text-anchor="end" fill="#000" transform="rotate(-90 1389.2 1249.6)">AngHostil</text>
<rect x="1395.36" y="1190.40" width="17.50" height="46.30" fill="#fff" stroke="#a9046f" stroke-width="3.6"/>
<text x="1411.4" y="1249.6" font-size="23.1" text-anchor="end" fill="#000" transform="rotate(-90 1411.4 1249.6)">PosAffect</text>
<rect x="1417.57" y="1190.60" width="17.50" height="46.10" fill="#fff" stroke="#a9046f" stroke-width="3.6"/>
<text x="1433.6" y="1249.6" font-size="23.1" text-anchor="end" fill="#000" transform="rotate(-90 1433.6 1249.6)">EmotSupp</text>
<rect x="1439.78" y="1191.40" width="17.50" height="45.30" fill="#fff" stroke="#a9046f" stroke-width="3.6"/>
<text x="1455.8" y="1249.6" font-size="23.1" text-anchor="end" fill="#000" transform="rotate(-90 1455.8 1249.6)">MeanPurp</text>
<rect x="1461.99" y="1194.10" width="17.50" height="42.60" fill="#fff" stroke="#a9046f" stroke-width="3.6"/>
<text x="1478.0" y="1249.6" font-size="23.1" text-anchor="end" fill="#000" transform="rotate(-90 1478.0 1249.6)">FearSomat</text>
<rect x="1484.20" y="1194.40" width="17.50" height="42.30" fill="#fff" stroke="#a9046f" stroke-width="3.6"/>
<text x="1500.2" y="1249.6" font-size="23.1" text-anchor="end" fill="#000" transform="rotate(-90 1500.2 1249.6)">AngAggr</text>
<rect x="1506.41" y="1195.80" width="17.50" height="40.90" fill="#fff" stroke="#a9046f" stroke-width="3.6"/>
<text x="1522.4" y="1249.6" font-size="23.1" text-anchor="end" fill="#000" transform="rotate(-90 1522.4 1249.6)">SelfEff</text>
<rect x="1528.62" y="1198.40" width="17.50" height="38.30" fill="#fff" stroke="#a9046f" stroke-width="3.6"/>
<text x="1544.6" y="1249.6" font-size="23.1" text-anchor="end" fill="#000" transform="rotate(-90 1544.6 1249.6)">PercStress</text>
<rect x="1573.10" y="1162.80" width="17.50" height="73.90" fill="#fff" stroke="#228b22" stroke-width="3.6"/>
<text x="1589.1" y="1249.6" font-size="23.1" text-anchor="end" fill="#000" transform="rotate(-90 1589.1 1249.6)">NEOFAC_A</text>
<rect x="1595.31" y="1165.00" width="17.50" height="71.70" fill="#fff" stroke="#228b22" stroke-width="3.6"/>
<text x="1611.3" y="1249.6" font-size="23.1" text-anchor="end" fill="#000" transform="rotate(-90 1611.3 1249.6)">Odor</text>
<rect x="1617.52" y="1166.40" width="17.50" height="70.30" fill="#fff" stroke="#228b22" stroke-width="3.6"/>
<text x="1633.5" y="1249.6" font-size="23.1" text-anchor="end" fill="#000" transform="rotate(-90 1633.5 1249.6)">ST_Perc_TOM</text>
<rect x="1639.73" y="1168.30" width="17.50" height="68.40" fill="#fff" stroke="#228b22" stroke-width="3.6"/>
<text x="1655.7" y="1249.6" font-size="23.1" text-anchor="end" fill="#000" transform="rotate(-90 1655.7 1249.6)">Mars_Final</text>
<rect x="1661.94" y="1170.80" width="17.50" height="65.90" fill="#fff" stroke="#228b22" stroke-width="3.6"/>
<text x="1677.9" y="1249.6" font-size="23.1" text-anchor="end" fill="#000" transform="rotate(-90 1677.9 1249.6)">NEOFAC_E</text>
<rect x="1684.15" y="1173.50" width="17.50" height="63.20" fill="#fff" stroke="#228b22" stroke-width="3.6"/>
<text x="1700.1" y="1249.6" font-size="23.1" text-anchor="end" fill="#000" transform="rotate(-90 1700.1 1249.6)">NEOFAC_C</text>
<rect x="1706.36" y="1179.80" width="17.50" height="56.90" fill="#fff" stroke="#228b22" stroke-width="3.6"/>
<text x="1722.4" y="1249.6" font-size="23.1" text-anchor="end" fill="#000" transform="rotate(-90 1722.4 1249.6)">ET_Face_Acc</text>
<rect x="1728.57" y="1180.80" width="17.50" height="55.90" fill="#fff" stroke="#228b22" stroke-width="3.6"/>
<text x="1744.6" y="1249.6" font-size="23.1" text-anchor="end" fill="#000" transform="rotate(-90 1744.6 1249.6)">Endurance</text>
<rect x="1750.78" y="1185.00" width="17.50" height="51.70" fill="#fff" stroke="#228b22" stroke-width="3.6"/>
<text x="1766.8" y="1249.6" font-size="23.1" text-anchor="end" fill="#000" transform="rotate(-90 1766.8 1249.6)">NEOFAC_O</text>
<rect x="1772.99" y="1185.50" width="17.50" height="51.20" fill="#fff" stroke="#228b22" stroke-width="3.6"/>
<text x="1789.0" y="1249.6" font-size="23.1" text-anchor="end" fill="#000" transform="rotate(-90 1789.0 1249.6)">LT_Story</text>
<rect x="1795.20" y="1186.10" width="17.50" height="50.60" fill="#fff" stroke="#228b22" stroke-width="3.6"/>
<text x="1811.2" y="1249.6" font-size="23.1" text-anchor="end" fill="#000" transform="rotate(-90 1811.2 1249.6)">PainInterf</text>
<rect x="1817.41" y="1186.60" width="17.50" height="50.10" fill="#fff" stroke="#228b22" stroke-width="3.6"/>
<text x="1833.4" y="1249.6" font-size="23.1" text-anchor="end" fill="#000" transform="rotate(-90 1833.4 1249.6)">RT_Rel_Acc</text>
<rect x="1839.62" y="1187.40" width="17.50" height="49.30" fill="#fff" stroke="#228b22" stroke-width="3.6"/>
<text x="1855.6" y="1249.6" font-size="23.1" text-anchor="end" fill="#000" transform="rotate(-90 1855.6 1249.6)">Strength</text>
<rect x="1861.83" y="1188.80" width="17.50" height="47.90" fill="#fff" stroke="#228b22" stroke-width="3.6"/>
<text x="1877.8" y="1249.6" font-size="23.1" text-anchor="end" fill="#000" transform="rotate(-90 1877.8 1249.6)">NEOFAC_N</text>
<rect x="1884.04" y="1188.80" width="17.50" height="47.90" fill="#fff" stroke="#228b22" stroke-width="3.6"/>
<text x="1900.0" y="1249.6" font-size="23.1" text-anchor="end" fill="#000" transform="rotate(-90 1900.0 1249.6)">GaitSpeed</text>
<rect x="1906.25" y="1189.10" width="17.50" height="47.60" fill="#fff" stroke="#228b22" stroke-width="3.6"/>
<text x="1922.2" y="1249.6" font-size="23.1" text-anchor="end" fill="#000" transform="rotate(-90 1922.2 1249.6)">RT_Match_Acc</text>
<rect x="1928.46" y="1190.40" width="17.50" height="46.30" fill="#fff" stroke="#228b22" stroke-width="3.6"/>
<text x="1944.5" y="1249.6" font-size="23.1" text-anchor="end" fill="#000" transform="rotate(-90 1944.5 1249.6)">ST_Perc_Rand</text>
<rect x="1950.67" y="1190.70" width="17.50" height="46.00" fill="#fff" stroke="#228b22" stroke-width="3.6"/>
<text x="1966.7" y="1249.6" font-size="23.1" text-anchor="end" fill="#000" transform="rotate(-90 1966.7 1249.6)">PSQI</text>
<rect x="1972.88" y="1191.30" width="17.50" height="45.40" fill="#fff" stroke="#228b22" stroke-width="3.6"/>
<text x="1988.9" y="1249.6" font-size="23.1" text-anchor="end" fill="#000" transform="rotate(-90 1988.9 1249.6)">ET_Shape_Acc</text>
<rect x="1995.09" y="1192.90" width="17.50" height="43.80" fill="#fff" stroke="#228b22" stroke-width="3.6"/>
<text x="2011.1" y="1249.6" font-size="23.1" text-anchor="end" fill="#000" transform="rotate(-90 2011.1 1249.6)">MMSE</text>
<rect x="2017.30" y="1194.50" width="17.50" height="42.20" fill="#fff" stroke="#228b22" stroke-width="3.6"/>
<text x="2033.3" y="1249.6" font-size="23.1" text-anchor="end" fill="#000" transform="rotate(-90 2033.3 1249.6)">Taste</text>
<rect x="2039.51" y="1194.80" width="17.50" height="41.90" fill="#fff" stroke="#228b22" stroke-width="3.6"/>
<text x="2055.5" y="1249.6" font-size="23.1" text-anchor="end" fill="#000" transform="rotate(-90 2055.5 1249.6)">LT_Math</text>
<rect x="2061.72" y="1196.40" width="17.50" height="40.30" fill="#fff" stroke="#228b22" stroke-width="3.6"/>
<text x="2077.7" y="1249.6" font-size="23.1" text-anchor="end" fill="#000" transform="rotate(-90 2077.7 1249.6)">WM_Task_Acc</text>
<rect x="2083.93" y="1197.00" width="17.50" height="39.70" fill="#fff" stroke="#228b22" stroke-width="3.6"/>
<text x="2099.9" y="1249.6" font-size="23.1" text-anchor="end" fill="#000" transform="rotate(-90 2099.9 1249.6)">Dexterity</text>
<line x1="715.1" y1="1197.85" x2="2119" y2="1197.85" stroke="#000" stroke-width="3.2" stroke-dasharray="8.6 8.22"/>
</svg>
</body></html>
